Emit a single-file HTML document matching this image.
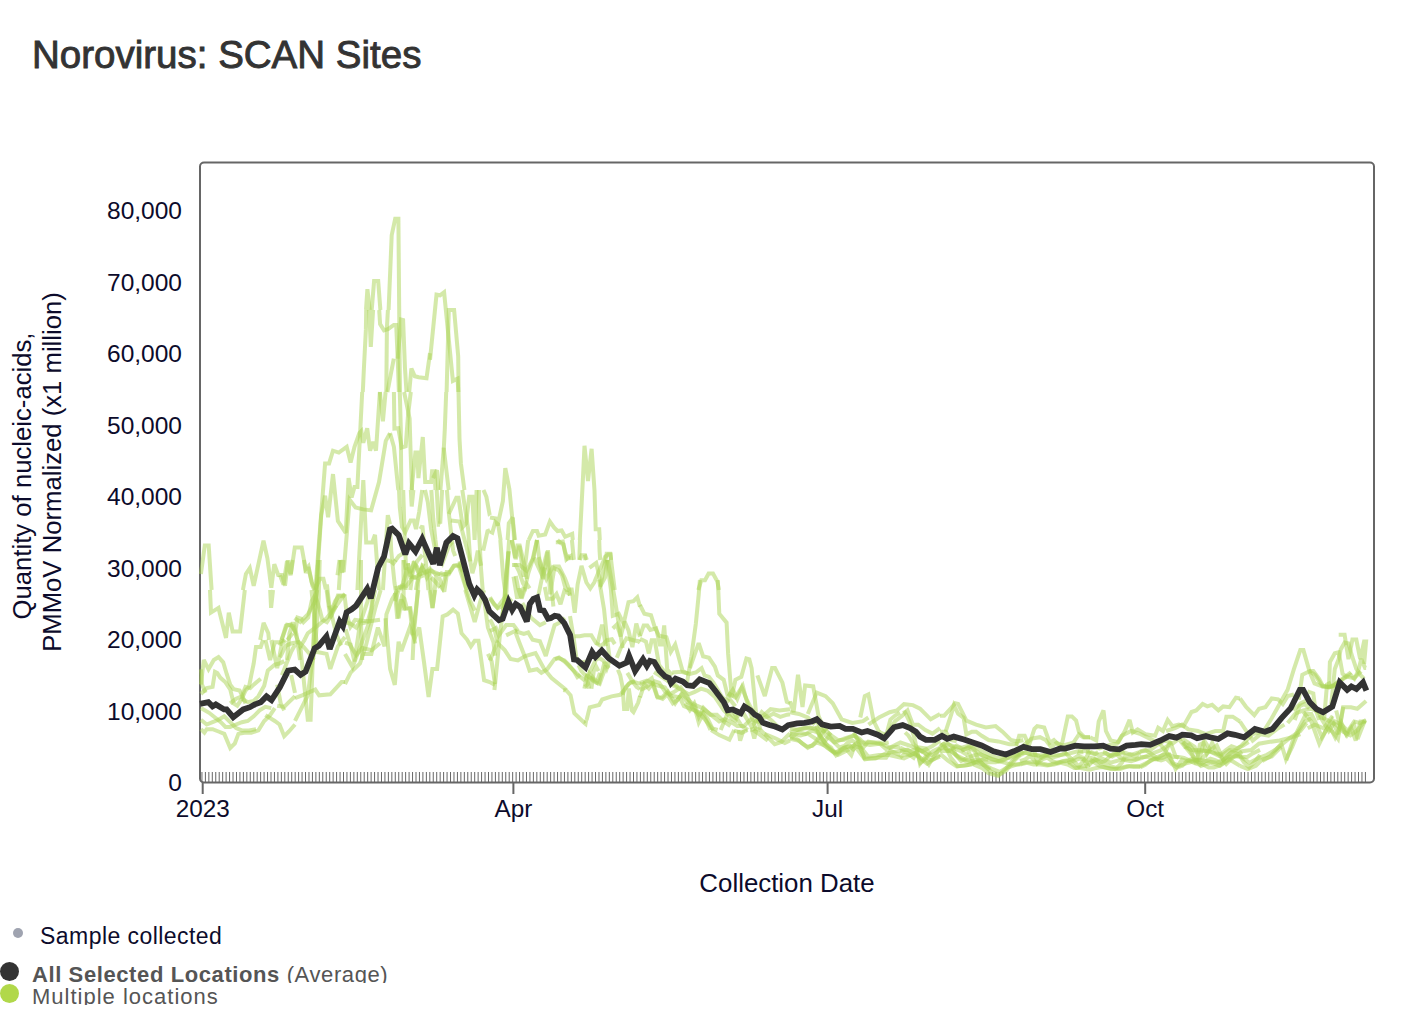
<!DOCTYPE html>
<html><head><meta charset="utf-8"><style>
html,body{margin:0;padding:0;background:#fff;width:1414px;height:1022px;overflow:hidden}
body{position:relative;font-family:"Liberation Sans",sans-serif}
.t{position:absolute;white-space:nowrap}
</style></head><body>
<div class="t" style="left:32px;top:31px;font-size:38.5px;color:#333;line-height:48px;-webkit-text-stroke:0.9px #333">Norovirus: SCAN Sites</div>
<svg width="1414" height="1022" style="position:absolute;left:0;top:0">
<rect x="200" y="162.5" width="1174" height="620" rx="4" ry="4" fill="none" stroke="#666" stroke-width="2"/>
<path d="M201.95 772V782M205.40 772V782M208.85 772V782M212.31 772V782M215.76 772V782M219.21 772V782M222.66 772V782M226.12 772V782M229.57 772V782M233.02 772V782M236.47 772V782M239.93 772V782M243.38 772V782M246.83 772V782M250.28 772V782M253.74 772V782M257.19 772V782M260.64 772V782M264.09 772V782M267.55 772V782M271.00 772V782M274.45 772V782M277.90 772V782M281.36 772V782M284.81 772V782M288.26 772V782M291.71 772V782M295.16 772V782M298.62 772V782M302.07 772V782M305.52 772V782M308.97 772V782M312.43 772V782M315.88 772V782M319.33 772V782M322.78 772V782M326.24 772V782M329.69 772V782M333.14 772V782M336.59 772V782M340.05 772V782M343.50 772V782M346.95 772V782M350.40 772V782M353.86 772V782M357.31 772V782M360.76 772V782M364.21 772V782M367.67 772V782M371.12 772V782M374.57 772V782M378.02 772V782M381.47 772V782M384.93 772V782M388.38 772V782M391.83 772V782M395.28 772V782M398.74 772V782M402.19 772V782M405.64 772V782M409.09 772V782M412.55 772V782M416.00 772V782M419.45 772V782M422.90 772V782M426.36 772V782M429.81 772V782M433.26 772V782M436.71 772V782M440.17 772V782M443.62 772V782M447.07 772V782M450.52 772V782M453.98 772V782M457.43 772V782M460.88 772V782M464.33 772V782M467.78 772V782M471.24 772V782M474.69 772V782M478.14 772V782M481.59 772V782M485.05 772V782M488.50 772V782M491.95 772V782M495.40 772V782M498.86 772V782M502.31 772V782M505.76 772V782M509.21 772V782M512.67 772V782M516.12 772V782M519.57 772V782M523.02 772V782M526.48 772V782M529.93 772V782M533.38 772V782M536.83 772V782M540.29 772V782M543.74 772V782M547.19 772V782M550.64 772V782M554.09 772V782M557.55 772V782M561.00 772V782M564.45 772V782M567.90 772V782M571.36 772V782M574.81 772V782M578.26 772V782M581.71 772V782M585.17 772V782M588.62 772V782M592.07 772V782M595.52 772V782M598.98 772V782M602.43 772V782M605.88 772V782M609.33 772V782M612.79 772V782M616.24 772V782M619.69 772V782M623.14 772V782M626.60 772V782M630.05 772V782M633.50 772V782M636.95 772V782M640.40 772V782M643.86 772V782M647.31 772V782M650.76 772V782M654.21 772V782M657.67 772V782M661.12 772V782M664.57 772V782M668.02 772V782M671.48 772V782M674.93 772V782M678.38 772V782M681.83 772V782M685.29 772V782M688.74 772V782M692.19 772V782M695.64 772V782M699.10 772V782M702.55 772V782M706.00 772V782M709.45 772V782M712.91 772V782M716.36 772V782M719.81 772V782M723.26 772V782M726.71 772V782M730.17 772V782M733.62 772V782M737.07 772V782M740.52 772V782M743.98 772V782M747.43 772V782M750.88 772V782M754.33 772V782M757.79 772V782M761.24 772V782M764.69 772V782M768.14 772V782M771.60 772V782M775.05 772V782M778.50 772V782M781.95 772V782M785.41 772V782M788.86 772V782M792.31 772V782M795.76 772V782M799.22 772V782M802.67 772V782M806.12 772V782M809.57 772V782M813.02 772V782M816.48 772V782M819.93 772V782M823.38 772V782M826.83 772V782M830.29 772V782M833.74 772V782M837.19 772V782M840.64 772V782M844.10 772V782M847.55 772V782M851.00 772V782M854.45 772V782M857.91 772V782M861.36 772V782M864.81 772V782M868.26 772V782M871.72 772V782M875.17 772V782M878.62 772V782M882.07 772V782M885.53 772V782M888.98 772V782M892.43 772V782M895.88 772V782M899.33 772V782M902.79 772V782M906.24 772V782M909.69 772V782M913.14 772V782M916.60 772V782M920.05 772V782M923.50 772V782M926.95 772V782M930.41 772V782M933.86 772V782M937.31 772V782M940.76 772V782M944.22 772V782M947.67 772V782M951.12 772V782M954.57 772V782M958.03 772V782M961.48 772V782M964.93 772V782M968.38 772V782M971.84 772V782M975.29 772V782M978.74 772V782M982.19 772V782M985.64 772V782M989.10 772V782M992.55 772V782M996.00 772V782M999.45 772V782M1002.91 772V782M1006.36 772V782M1009.81 772V782M1013.26 772V782M1016.72 772V782M1020.17 772V782M1023.62 772V782M1027.07 772V782M1030.53 772V782M1033.98 772V782M1037.43 772V782M1040.88 772V782M1044.34 772V782M1047.79 772V782M1051.24 772V782M1054.69 772V782M1058.15 772V782M1061.60 772V782M1065.05 772V782M1068.50 772V782M1071.95 772V782M1075.41 772V782M1078.86 772V782M1082.31 772V782M1085.76 772V782M1089.22 772V782M1092.67 772V782M1096.12 772V782M1099.57 772V782M1103.03 772V782M1106.48 772V782M1109.93 772V782M1113.38 772V782M1116.84 772V782M1120.29 772V782M1123.74 772V782M1127.19 772V782M1130.65 772V782M1134.10 772V782M1137.55 772V782M1141.00 772V782M1144.46 772V782M1147.91 772V782M1151.36 772V782M1154.81 772V782M1158.26 772V782M1161.72 772V782M1165.17 772V782M1168.62 772V782M1172.07 772V782M1175.53 772V782M1178.98 772V782M1182.43 772V782M1185.88 772V782M1189.34 772V782M1192.79 772V782M1196.24 772V782M1199.69 772V782M1203.15 772V782M1206.60 772V782M1210.05 772V782M1213.50 772V782M1216.96 772V782M1220.41 772V782M1223.86 772V782M1227.31 772V782M1230.77 772V782M1234.22 772V782M1237.67 772V782M1241.12 772V782M1244.57 772V782M1248.03 772V782M1251.48 772V782M1254.93 772V782M1258.38 772V782M1261.84 772V782M1265.29 772V782M1268.74 772V782M1272.19 772V782M1275.65 772V782M1279.10 772V782M1282.55 772V782M1286.00 772V782M1289.46 772V782M1292.91 772V782M1296.36 772V782M1299.81 772V782M1303.27 772V782M1306.72 772V782M1310.17 772V782M1313.62 772V782M1317.08 772V782M1320.53 772V782M1323.98 772V782M1327.43 772V782M1330.88 772V782M1334.34 772V782M1337.79 772V782M1341.24 772V782M1344.69 772V782M1348.15 772V782M1351.60 772V782M1355.05 772V782M1358.50 772V782M1361.96 772V782M1365.41 772V782" stroke="#666" stroke-width="1" fill="none"/>
<path d="M202.7 782V794" stroke="#666" stroke-width="2"/>
<path d="M513.4 782V794" stroke="#666" stroke-width="2"/>
<path d="M827.6 782V794" stroke="#666" stroke-width="2"/>
<path d="M1145.2 782V794" stroke="#666" stroke-width="2"/>
<g font-family="Liberation Sans" font-size="24.5" fill="#0c0b2b" text-anchor="end">
<text x="182" y="791.2">0</text>
<text x="182" y="719.7">10,000</text>
<text x="182" y="648.2">20,000</text>
<text x="182" y="576.7">30,000</text>
<text x="182" y="505.2">40,000</text>
<text x="182" y="433.7">50,000</text>
<text x="182" y="362.2">60,000</text>
<text x="182" y="290.7">70,000</text>
<text x="182" y="219.2">80,000</text>
</g>
<g font-family="Liberation Sans" font-size="24.3" fill="#0c0b2b" text-anchor="middle">
<text x="202.7" y="817">2023</text>
<text x="513.4" y="817">Apr</text>
<text x="827.6" y="817">Jul</text>
<text x="1145.2" y="817">Oct</text>
</g>
<text x="787" y="892" font-family="Liberation Sans" font-size="25.85" fill="#0c0b2b" text-anchor="middle">Collection Date</text>
<g transform="translate(0,472) rotate(-90)" font-family="Liberation Sans" font-size="25.7" fill="#0c0b2b" text-anchor="middle">
<text x="-4" y="31.3">Quantity of nucleic-acids,</text>
<text x="0" y="61">PMMoV Normalized (x1 million)</text>
</g>
<polyline points="388.6,310.0 391.7,235.2 395.2,218.8 398.4,218.8 399.2,310.0" fill="none" stroke="#aad454" stroke-opacity="0.5" stroke-width="4" stroke-linejoin="miter" stroke-miterlimit="3"/>
<polyline points="366.0,310.0 367.4,289.2 369.8,310.0" fill="none" stroke="#aad454" stroke-opacity="0.5" stroke-width="4" stroke-linejoin="miter" stroke-miterlimit="3"/>
<polyline points="371.7,310.0 374.1,281.0 378.2,281.0 380.4,310.0" fill="none" stroke="#aad454" stroke-opacity="0.5" stroke-width="4" stroke-linejoin="miter" stroke-miterlimit="3"/>
<polyline points="366.2,310.0 365.9,329.4 363.9,368.5 362.8,392.0" fill="none" stroke="#aad454" stroke-opacity="0.5" stroke-width="4" stroke-linejoin="miter" stroke-miterlimit="3"/>
<polyline points="373.1,310.0 370.8,347.0 369.2,310.0" fill="none" stroke="#aad454" stroke-opacity="0.5" stroke-width="4" stroke-linejoin="miter" stroke-miterlimit="3"/>
<polyline points="379.2,310.0 380.1,324.0 384.0,330.3 388.4,328.9 393.8,325.0 396.2,325.0 397.7,358.7 398.9,392.0" fill="none" stroke="#aad454" stroke-opacity="0.5" stroke-width="4" stroke-linejoin="miter" stroke-miterlimit="3"/>
<polyline points="387.9,310.0 386.9,328.4 386.3,392.0" fill="none" stroke="#aad454" stroke-opacity="0.5" stroke-width="4" stroke-linejoin="miter" stroke-miterlimit="3"/>
<polyline points="399.2,310.0 399.6,358.7 400.0,392.0" fill="none" stroke="#aad454" stroke-opacity="0.5" stroke-width="4" stroke-linejoin="miter" stroke-miterlimit="3"/>
<polyline points="393.8,358.7 387.4,392.0" fill="none" stroke="#aad454" stroke-opacity="0.5" stroke-width="4" stroke-linejoin="miter" stroke-miterlimit="3"/>
<polyline points="397.7,358.7 401.1,319.6 403.1,320.1 405.0,368.5 406.5,392.0" fill="none" stroke="#aad454" stroke-opacity="0.5" stroke-width="4" stroke-linejoin="miter" stroke-miterlimit="3"/>
<polyline points="430.0,353.1 426.5,378.3 418.7,377.3 414.8,376.3 411.4,368.5 409.2,392.0" fill="none" stroke="#aad454" stroke-opacity="0.5" stroke-width="4" stroke-linejoin="miter" stroke-miterlimit="3"/>
<polyline points="200.9,574.0 204.8,545.6 208.7,545.6 211.6,590.0" fill="none" stroke="#aad454" stroke-opacity="0.5" stroke-width="4" stroke-linejoin="miter" stroke-miterlimit="3"/>
<polyline points="242.9,590.0 245.9,574.0 249.8,568.1 253.7,585.7 263.5,540.7 267.4,558.3 271.3,587.7 274.3,564.2 278.2,574.9 282.1,574.9 285.0,585.7 288.0,560.3 290.9,574.0 294.8,547.5 301.7,547.5 305.6,569.1 308.5,566.1 312.4,585.7 314.4,590.0" fill="none" stroke="#aad454" stroke-opacity="0.5" stroke-width="4" stroke-linejoin="miter" stroke-miterlimit="3"/>
<polyline points="315.4,590.0 320.2,527.0 325.1,463.4 329.1,463.4 333.0,450.7 338.8,452.6 346.7,446.8 350.6,462.4 354.5,446.8 359.4,433.1 361.3,431.1 363.3,442.8 367.2,428.2 370.1,450.7 373.1,441.9 376.0,450.7 379.9,392.0" fill="none" stroke="#aad454" stroke-opacity="0.5" stroke-width="4" stroke-linejoin="miter" stroke-miterlimit="3"/>
<polyline points="379.9,392.0 382.9,421.3 385.6,392.0" fill="none" stroke="#aad454" stroke-opacity="0.5" stroke-width="4" stroke-linejoin="miter" stroke-miterlimit="3"/>
<polyline points="316.3,590.0 321.2,515.2 325.1,495.7 328.1,517.2 333.0,474.1 337.9,521.1 345.7,532.9 348.6,478.1 351.6,497.6 354.5,486.9 357.4,486.9 362.2,392.0" fill="none" stroke="#aad454" stroke-opacity="0.5" stroke-width="4" stroke-linejoin="miter" stroke-miterlimit="3"/>
<polyline points="338.8,590.0 340.8,560.3 343.7,572.0 349.6,499.6 355.5,507.4 363.3,509.4 371.1,510.4 379.0,482.0 385.8,440.9 390.0,433.3" fill="none" stroke="#aad454" stroke-opacity="0.5" stroke-width="4" stroke-linejoin="miter" stroke-miterlimit="3"/>
<polyline points="357.4,590.0 363.3,480.0 366.2,542.6 372.1,542.6 375.0,534.8 379.0,590.0" fill="none" stroke="#aad454" stroke-opacity="0.5" stroke-width="4" stroke-linejoin="miter" stroke-miterlimit="3"/>
<polyline points="382.9,590.0 387.8,515.2 390.0,524.2" fill="none" stroke="#aad454" stroke-opacity="0.5" stroke-width="4" stroke-linejoin="miter" stroke-miterlimit="3"/>
<polyline points="386.8,560.3 390.0,561.0" fill="none" stroke="#aad454" stroke-opacity="0.5" stroke-width="4" stroke-linejoin="miter" stroke-miterlimit="3"/>
<polyline points="430.0,359.8 436.5,294.7 440.0,295.3 444.1,292.3 452.9,380.9 457.6,378.6 458.3,392.0" fill="none" stroke="#aad454" stroke-opacity="0.5" stroke-width="4" stroke-linejoin="miter" stroke-miterlimit="3"/>
<polyline points="446.6,392.0 448.8,309.9 454.1,309.9 458.2,356.3 458.6,392.0" fill="none" stroke="#aad454" stroke-opacity="0.5" stroke-width="4" stroke-linejoin="miter" stroke-miterlimit="3"/>
<polyline points="458.5,392.0 459.5,438.9 460.9,463.4 464.4,490.0" fill="none" stroke="#aad454" stroke-opacity="0.5" stroke-width="4" stroke-linejoin="miter" stroke-miterlimit="3"/>
<polyline points="446.2,392.0 444.8,429.1 443.8,448.7 448.7,490.0" fill="none" stroke="#aad454" stroke-opacity="0.5" stroke-width="4" stroke-linejoin="miter" stroke-miterlimit="3"/>
<polyline points="440.4,490.0 443.8,447.7" fill="none" stroke="#aad454" stroke-opacity="0.5" stroke-width="4" stroke-linejoin="miter" stroke-miterlimit="3"/>
<polyline points="393.9,392.0 394.4,428.6 398.3,428.2 401.7,447.7 405.7,446.3 408.1,414.5 410.8,392.0" fill="none" stroke="#aad454" stroke-opacity="0.5" stroke-width="4" stroke-linejoin="miter" stroke-miterlimit="3"/>
<polyline points="399.8,392.0 400.8,429.1 401.3,490.0" fill="none" stroke="#aad454" stroke-opacity="0.5" stroke-width="4" stroke-linejoin="miter" stroke-miterlimit="3"/>
<polyline points="404.1,392.0 409.6,418.4 410.5,448.7 412.0,490.0" fill="none" stroke="#aad454" stroke-opacity="0.5" stroke-width="4" stroke-linejoin="miter" stroke-miterlimit="3"/>
<polyline points="390.0,433.1 393.9,446.8 398.3,490.0" fill="none" stroke="#aad454" stroke-opacity="0.5" stroke-width="4" stroke-linejoin="miter" stroke-miterlimit="3"/>
<polyline points="411.5,490.0 415.4,452.6 417.4,452.6 418.4,478.1 422.8,437.0 425.2,482.0 431.1,482.0 432.1,471.2 434.5,471.2 435.5,490.0" fill="none" stroke="#aad454" stroke-opacity="0.5" stroke-width="4" stroke-linejoin="miter" stroke-miterlimit="3"/>
<polyline points="433.1,478.1 437.0,470.2 438.4,490.0" fill="none" stroke="#aad454" stroke-opacity="0.5" stroke-width="4" stroke-linejoin="miter" stroke-miterlimit="3"/>
<polyline points="490.0,517.5 495.9,518.6 497.6,525.7 502.9,501.0 505.3,468.1 509.4,489.3 512.3,518.6 515.2,540.0" fill="none" stroke="#aad454" stroke-opacity="0.5" stroke-width="4" stroke-linejoin="miter" stroke-miterlimit="3"/>
<polyline points="490.0,531.5 492.3,532.7 495.3,522.1 498.2,524.5 500.6,540.0" fill="none" stroke="#aad454" stroke-opacity="0.5" stroke-width="4" stroke-linejoin="miter" stroke-miterlimit="3"/>
<polyline points="507.6,540.0 508.8,523.3 512.9,517.5 514.1,540.0" fill="none" stroke="#aad454" stroke-opacity="0.5" stroke-width="4" stroke-linejoin="miter" stroke-miterlimit="3"/>
<polyline points="579.8,540.0 582.8,481.1 584.5,445.8 588.0,481.1 591.6,448.8 594.5,490.4 595.7,529.2 599.2,529.2 599.8,540.0" fill="none" stroke="#aad454" stroke-opacity="0.5" stroke-width="4" stroke-linejoin="miter" stroke-miterlimit="3"/>
<polyline points="528.7,540.0 532.9,531.0 537.0,531.0 538.7,535.7 545.2,534.5 549.9,521.6 554.0,527.4 557.5,531.0 561.6,530.4 565.1,536.8 572.2,533.9 572.8,540.0" fill="none" stroke="#aad454" stroke-opacity="0.5" stroke-width="4" stroke-linejoin="miter" stroke-miterlimit="3"/>
<polyline points="399.0,490.0 399.8,507.5 402.0,526.9 405.2,532.3 410.6,520.4 413.8,520.4 416.0,529.1 419.2,511.8 422.2,490.0" fill="none" stroke="#aad454" stroke-opacity="0.5" stroke-width="4" stroke-linejoin="miter" stroke-miterlimit="3"/>
<polyline points="425.0,490.0 427.8,502.1 431.1,529.1 433.2,539.8 436.4,556.0" fill="none" stroke="#aad454" stroke-opacity="0.5" stroke-width="4" stroke-linejoin="miter" stroke-miterlimit="3"/>
<polyline points="410.8,490.0 411.7,506.5 413.4,490.0" fill="none" stroke="#aad454" stroke-opacity="0.5" stroke-width="4" stroke-linejoin="miter" stroke-miterlimit="3"/>
<polyline points="390.0,527.9 390.2,529.1 391.2,550.6 394.5,582.9 395.6,590.0" fill="none" stroke="#aad454" stroke-opacity="0.5" stroke-width="4" stroke-linejoin="miter" stroke-miterlimit="3"/>
<polyline points="390.0,560.8 393.4,563.5 398.8,556.0 404.1,552.7" fill="none" stroke="#aad454" stroke-opacity="0.5" stroke-width="4" stroke-linejoin="miter" stroke-miterlimit="3"/>
<polyline points="403.2,490.0 404.1,518.3 405.2,550.6 406.3,572.1 405.5,590.0" fill="none" stroke="#aad454" stroke-opacity="0.5" stroke-width="4" stroke-linejoin="miter" stroke-miterlimit="3"/>
<polyline points="420.3,529.1 422.4,525.8 424.6,550.6 426.8,572.1 428.4,590.0" fill="none" stroke="#aad454" stroke-opacity="0.5" stroke-width="4" stroke-linejoin="miter" stroke-miterlimit="3"/>
<polyline points="431.3,490.0 433.2,518.3 435.4,539.8 437.5,556.0" fill="none" stroke="#aad454" stroke-opacity="0.5" stroke-width="4" stroke-linejoin="miter" stroke-miterlimit="3"/>
<polyline points="436.7,490.0 438.6,524.8 440.0,524.8" fill="none" stroke="#aad454" stroke-opacity="0.5" stroke-width="4" stroke-linejoin="miter" stroke-miterlimit="3"/>
<polyline points="400.7,590.0 403.1,582.9 407.4,567.8 410.6,578.6 413.8,561.3 418.1,572.1 422.4,567.8 426.8,577.5 431.1,570.0 435.4,574.3 440.0,574.3" fill="none" stroke="#aad454" stroke-opacity="0.5" stroke-width="4" stroke-linejoin="miter" stroke-miterlimit="3"/>
<polyline points="394.5,588.3 400.9,587.2 406.3,586.1 412.8,577.5 418.1,577.5 423.5,575.3" fill="none" stroke="#aad454" stroke-opacity="0.5" stroke-width="4" stroke-linejoin="miter" stroke-miterlimit="3"/>
<polyline points="410.3,590.0 412.8,572.1 417.1,561.3 422.4,554.9" fill="none" stroke="#aad454" stroke-opacity="0.5" stroke-width="4" stroke-linejoin="miter" stroke-miterlimit="3"/>
<polyline points="431.1,577.5 436.4,582.9 440.0,587.5" fill="none" stroke="#aad454" stroke-opacity="0.5" stroke-width="4" stroke-linejoin="miter" stroke-miterlimit="3"/>
<polyline points="415.9,590.0 417.1,582.9 420.3,572.1 423.5,563.5" fill="none" stroke="#aad454" stroke-opacity="0.5" stroke-width="4" stroke-linejoin="miter" stroke-miterlimit="3"/>
<polyline points="440.0,521.0 440.2,523.7 442.1,490.0" fill="none" stroke="#aad454" stroke-opacity="0.5" stroke-width="4" stroke-linejoin="miter" stroke-miterlimit="3"/>
<polyline points="446.9,490.0 448.8,512.9 453.1,550.6 455.2,556.0" fill="none" stroke="#aad454" stroke-opacity="0.5" stroke-width="4" stroke-linejoin="miter" stroke-miterlimit="3"/>
<polyline points="448.8,514.0 456.3,497.8 458.5,497.8 462.8,526.9 466.0,523.7 469.2,496.8 472.4,496.8 474.6,539.8 476.6,490.0" fill="none" stroke="#aad454" stroke-opacity="0.5" stroke-width="4" stroke-linejoin="miter" stroke-miterlimit="3"/>
<polyline points="462.3,490.0 464.9,507.5 468.1,529.1 470.3,561.3" fill="none" stroke="#aad454" stroke-opacity="0.5" stroke-width="4" stroke-linejoin="miter" stroke-miterlimit="3"/>
<polyline points="483.5,490.0 486.4,496.8 489.7,515.1 490.0,515.4" fill="none" stroke="#aad454" stroke-opacity="0.5" stroke-width="4" stroke-linejoin="miter" stroke-miterlimit="3"/>
<polyline points="478.9,490.0 478.9,529.1 481.1,570.0 482.7,590.0" fill="none" stroke="#aad454" stroke-opacity="0.5" stroke-width="4" stroke-linejoin="miter" stroke-miterlimit="3"/>
<polyline points="483.2,550.6 487.5,531.2 490.0,530.2" fill="none" stroke="#aad454" stroke-opacity="0.5" stroke-width="4" stroke-linejoin="miter" stroke-miterlimit="3"/>
<polyline points="440.0,572.8 444.5,574.3 448.8,574.3 454.1,565.7 459.5,565.7 463.8,559.2" fill="none" stroke="#aad454" stroke-opacity="0.5" stroke-width="4" stroke-linejoin="miter" stroke-miterlimit="3"/>
<polyline points="440.0,585.4 442.3,588.3 446.6,572.1 450.9,572.1" fill="none" stroke="#aad454" stroke-opacity="0.5" stroke-width="4" stroke-linejoin="miter" stroke-miterlimit="3"/>
<polyline points="440.0,560.0 442.3,563.5 448.8,546.3 452.0,542.0" fill="none" stroke="#aad454" stroke-opacity="0.5" stroke-width="4" stroke-linejoin="miter" stroke-miterlimit="3"/>
<polyline points="450.9,520.4 459.5,521.5 461.7,529.1 466.0,545.2 470.3,561.3 472.4,573.2 475.7,561.3 477.8,550.6 481.1,565.7" fill="none" stroke="#aad454" stroke-opacity="0.5" stroke-width="4" stroke-linejoin="miter" stroke-miterlimit="3"/>
<polyline points="459.5,561.3 464.9,582.9 466.7,590.0" fill="none" stroke="#aad454" stroke-opacity="0.5" stroke-width="4" stroke-linejoin="miter" stroke-miterlimit="3"/>
<polyline points="210.0,590.0 211.0,612.6 218.5,607.9 226.0,637.9 228.8,612.6 232.6,631.4 240.1,631.4 244.8,590.0" fill="none" stroke="#aad454" stroke-opacity="0.5" stroke-width="4" stroke-linejoin="miter" stroke-miterlimit="3"/>
<polyline points="270.2,590.0 271.1,607.9 273.0,590.0" fill="none" stroke="#aad454" stroke-opacity="0.5" stroke-width="4" stroke-linejoin="miter" stroke-miterlimit="3"/>
<polyline points="287.3,640.0 292.7,633.2" fill="none" stroke="#aad454" stroke-opacity="0.5" stroke-width="4" stroke-linejoin="miter" stroke-miterlimit="3"/>
<polyline points="295.0,720.8 300.3,710.3 307.8,695.3 311.5,667.1 315.3,646.4" fill="none" stroke="#aad454" stroke-opacity="0.5" stroke-width="4" stroke-linejoin="miter" stroke-miterlimit="3"/>
<polyline points="260.2,640.0 263.6,622.9 268.3,633.2 269.0,640.0" fill="none" stroke="#aad454" stroke-opacity="0.5" stroke-width="4" stroke-linejoin="miter" stroke-miterlimit="3"/>
<polyline points="281.4,640.0 283.3,635.1 287.1,624.8 292.7,625.7 296.5,637.0 297.7,640.0" fill="none" stroke="#aad454" stroke-opacity="0.5" stroke-width="4" stroke-linejoin="miter" stroke-miterlimit="3"/>
<polyline points="304.4,640.0 307.8,633.2 315.3,627.6 326.6,618.2 334.1,608.8 345.0,593.8" fill="none" stroke="#aad454" stroke-opacity="0.5" stroke-width="4" stroke-linejoin="miter" stroke-miterlimit="3"/>
<polyline points="297.7,640.0 300.3,646.4 304.0,640.8 304.4,640.0" fill="none" stroke="#aad454" stroke-opacity="0.5" stroke-width="4" stroke-linejoin="miter" stroke-miterlimit="3"/>
<polyline points="295.0,698.1 302.1,695.3 315.3,689.6 319.1,695.3 330.3,694.3 341.6,682.1 345.0,682.1" fill="none" stroke="#aad454" stroke-opacity="0.5" stroke-width="4" stroke-linejoin="miter" stroke-miterlimit="3"/>
<polyline points="294.6,618.2 300.3,622.0 307.8,614.4 315.3,601.3 317.2,590.0" fill="none" stroke="#aad454" stroke-opacity="0.5" stroke-width="4" stroke-linejoin="miter" stroke-miterlimit="3"/>
<polyline points="313.5,640.0 315.3,590.0" fill="none" stroke="#aad454" stroke-opacity="0.5" stroke-width="4" stroke-linejoin="miter" stroke-miterlimit="3"/>
<polyline points="300.3,646.4 307.8,719.7 310.6,719.7 313.4,642.6 313.5,640.0" fill="none" stroke="#aad454" stroke-opacity="0.5" stroke-width="4" stroke-linejoin="miter" stroke-miterlimit="3"/>
<polyline points="311.5,590.0 315.3,627.6 316.3,640.0" fill="none" stroke="#aad454" stroke-opacity="0.5" stroke-width="4" stroke-linejoin="miter" stroke-miterlimit="3"/>
<polyline points="342.7,640.0 345.0,637.0" fill="none" stroke="#aad454" stroke-opacity="0.5" stroke-width="4" stroke-linejoin="miter" stroke-miterlimit="3"/>
<polyline points="316.3,640.0 317.2,652.0 326.6,653.9 330.3,668.9 337.9,646.4 342.7,640.0" fill="none" stroke="#aad454" stroke-opacity="0.5" stroke-width="4" stroke-linejoin="miter" stroke-miterlimit="3"/>
<polyline points="326.6,590.0 330.3,618.2 337.9,595.6 345.0,595.6" fill="none" stroke="#aad454" stroke-opacity="0.5" stroke-width="4" stroke-linejoin="miter" stroke-miterlimit="3"/>
<polyline points="345.0,684.0 350.6,672.7 354.4,668.9 360.0,663.3 365.7,646.4 369.4,631.4 375.1,608.8 380.7,590.0" fill="none" stroke="#aad454" stroke-opacity="0.5" stroke-width="4" stroke-linejoin="miter" stroke-miterlimit="3"/>
<polyline points="345.0,653.9 352.5,667.1 358.2,652.0 363.8,637.0 369.4,622.0 373.2,599.4 375.1,590.0" fill="none" stroke="#aad454" stroke-opacity="0.5" stroke-width="4" stroke-linejoin="miter" stroke-miterlimit="3"/>
<polyline points="345.0,642.6 350.6,644.5 354.4,661.4 360.0,623.8 367.6,622.0 371.3,608.8 373.2,590.0" fill="none" stroke="#aad454" stroke-opacity="0.5" stroke-width="4" stroke-linejoin="miter" stroke-miterlimit="3"/>
<polyline points="345.0,622.0 350.6,623.8 356.3,627.6 361.9,618.2 367.6,601.3 369.4,590.0" fill="none" stroke="#aad454" stroke-opacity="0.5" stroke-width="4" stroke-linejoin="miter" stroke-miterlimit="3"/>
<polyline points="363.8,653.9 371.3,653.9 377.9,627.6 384.5,646.4 386.4,614.4 392.0,599.4 397.6,590.0" fill="none" stroke="#aad454" stroke-opacity="0.5" stroke-width="4" stroke-linejoin="miter" stroke-miterlimit="3"/>
<polyline points="385.4,618.2 390.1,668.9 394.8,684.9 398.6,641.7 401.4,651.1 409.8,627.6 414.5,638.9 419.2,627.6 423.9,661.4 428.6,697.1 432.4,668.9 437.1,668.9 442.7,616.3 447.4,614.4 453.1,609.7 457.8,613.5 461.5,633.2 467.2,639.8 470.9,646.4 474.7,640.8 478.5,640.8 484.1,680.2 489.7,682.1 495.0,684.9" fill="none" stroke="#aad454" stroke-opacity="0.5" stroke-width="4" stroke-linejoin="miter" stroke-miterlimit="3"/>
<polyline points="395.8,590.0 398.6,618.2 401.4,599.4 405.2,608.8 409.8,608.8 412.7,635.1 418.3,590.0" fill="none" stroke="#aad454" stroke-opacity="0.5" stroke-width="4" stroke-linejoin="miter" stroke-miterlimit="3"/>
<polyline points="429.6,590.0 432.4,607.9 435.2,590.0" fill="none" stroke="#aad454" stroke-opacity="0.5" stroke-width="4" stroke-linejoin="miter" stroke-miterlimit="3"/>
<polyline points="465.3,590.0 474.7,622.0 480.3,601.3 484.1,590.0" fill="none" stroke="#aad454" stroke-opacity="0.5" stroke-width="4" stroke-linejoin="miter" stroke-miterlimit="3"/>
<polyline points="484.1,599.4 487.9,627.6 493.5,642.6 495.0,655.8" fill="none" stroke="#aad454" stroke-opacity="0.5" stroke-width="4" stroke-linejoin="miter" stroke-miterlimit="3"/>
<polyline points="487.9,653.9 491.6,661.4 495.0,684.0" fill="none" stroke="#aad454" stroke-opacity="0.5" stroke-width="4" stroke-linejoin="miter" stroke-miterlimit="3"/>
<polyline points="508.3,551.7 504.7,598.7 500.3,631.0 495.1,683.8 494.4,690.0" fill="none" stroke="#aad454" stroke-opacity="0.5" stroke-width="4" stroke-linejoin="miter" stroke-miterlimit="3"/>
<polyline points="500.3,540.0 503.2,576.7 506.1,598.7 508.3,551.7 509.1,540.0" fill="none" stroke="#aad454" stroke-opacity="0.5" stroke-width="4" stroke-linejoin="miter" stroke-miterlimit="3"/>
<polyline points="512.0,540.0 515.7,559.1 519.4,545.9 523.8,576.7 528.2,540.0" fill="none" stroke="#aad454" stroke-opacity="0.5" stroke-width="4" stroke-linejoin="miter" stroke-miterlimit="3"/>
<polyline points="513.5,576.7 517.2,598.7 519.4,588.4 521.6,598.7 526.7,584.0 529.6,588.4" fill="none" stroke="#aad454" stroke-opacity="0.5" stroke-width="4" stroke-linejoin="miter" stroke-miterlimit="3"/>
<polyline points="512.0,565.0 519.4,565.0 526.7,570.8 532.6,559.1 537.0,540.0" fill="none" stroke="#aad454" stroke-opacity="0.5" stroke-width="4" stroke-linejoin="miter" stroke-miterlimit="3"/>
<polyline points="534.0,557.6 541.4,573.8 547.2,551.7 550.2,594.3 554.6,566.4 559.0,566.4 564.9,578.2 569.3,589.9 570.0,595.8" fill="none" stroke="#aad454" stroke-opacity="0.5" stroke-width="4" stroke-linejoin="miter" stroke-miterlimit="3"/>
<polyline points="557.5,540.0 560.5,542.9 563.4,544.4 566.3,559.1 570.0,555.4" fill="none" stroke="#aad454" stroke-opacity="0.5" stroke-width="4" stroke-linejoin="miter" stroke-miterlimit="3"/>
<polyline points="490.0,598.7 497.3,607.5 506.1,595.8 512.0,601.6" fill="none" stroke="#aad454" stroke-opacity="0.5" stroke-width="4" stroke-linejoin="miter" stroke-miterlimit="3"/>
<polyline points="490.0,631.0 495.9,628.1 498.8,635.4 506.1,625.1 513.5,625.1 517.9,631.0" fill="none" stroke="#aad454" stroke-opacity="0.5" stroke-width="4" stroke-linejoin="miter" stroke-miterlimit="3"/>
<polyline points="490.0,619.3 494.4,628.1 497.3,642.7" fill="none" stroke="#aad454" stroke-opacity="0.5" stroke-width="4" stroke-linejoin="miter" stroke-miterlimit="3"/>
<polyline points="490.0,660.4 497.3,642.7 504.7,650.1 510.5,658.9 517.9,660.4 525.2,656.0 535.5,653.0 544.3,669.2 551.6,678.0 560.5,685.3 566.3,690.0" fill="none" stroke="#aad454" stroke-opacity="0.5" stroke-width="4" stroke-linejoin="miter" stroke-miterlimit="3"/>
<polyline points="506.1,635.4 515.0,631.0 519.4,642.7 525.2,657.4 529.6,670.6 537.0,669.2 541.4,672.8 547.2,669.2 554.6,658.9 559.0,657.4 564.9,661.8 570.0,667.0" fill="none" stroke="#aad454" stroke-opacity="0.5" stroke-width="4" stroke-linejoin="miter" stroke-miterlimit="3"/>
<polyline points="570.0,667.0 570.7,667.7 578.1,675.0 585.0,680.6" fill="none" stroke="#aad454" stroke-opacity="0.5" stroke-width="4" stroke-linejoin="miter" stroke-miterlimit="3"/>
<polyline points="515.0,631.0 523.8,633.9 528.2,632.5 532.6,639.8 539.9,641.3 545.8,656.0 551.6,635.4 554.6,625.1 560.5,622.2 564.9,617.8" fill="none" stroke="#aad454" stroke-opacity="0.5" stroke-width="4" stroke-linejoin="miter" stroke-miterlimit="3"/>
<polyline points="522.3,603.1 531.1,617.8 539.9,625.1 545.8,622.2" fill="none" stroke="#aad454" stroke-opacity="0.5" stroke-width="4" stroke-linejoin="miter" stroke-miterlimit="3"/>
<polyline points="583.5,660.0 585.0,664.9" fill="none" stroke="#aad454" stroke-opacity="0.5" stroke-width="4" stroke-linejoin="miter" stroke-miterlimit="3"/>
<polyline points="563.2,690.0 566.4,690.5 570.6,695.3 574.3,713.3 585.0,723.5" fill="none" stroke="#aad454" stroke-opacity="0.5" stroke-width="4" stroke-linejoin="miter" stroke-miterlimit="3"/>
<polyline points="585.0,723.5 585.5,723.9 586.2,720.0" fill="none" stroke="#aad454" stroke-opacity="0.5" stroke-width="4" stroke-linejoin="miter" stroke-miterlimit="3"/>
<polyline points="600.3,586.8 606.6,553.8 610.3,553.8 614.7,590.0" fill="none" stroke="#aad454" stroke-opacity="0.5" stroke-width="4" stroke-linejoin="miter" stroke-miterlimit="3"/>
<polyline points="698.3,590.0 701.3,580.2 705.0,580.2 708.6,573.6 713.0,573.6 717.4,581.6 718.9,590.0" fill="none" stroke="#aad454" stroke-opacity="0.5" stroke-width="4" stroke-linejoin="miter" stroke-miterlimit="3"/>
<polyline points="687.0,682.7 691.4,656.3 695.8,624.0 698.7,594.7 699.9,580.0" fill="none" stroke="#aad454" stroke-opacity="0.5" stroke-width="4" stroke-linejoin="miter" stroke-miterlimit="3"/>
<polyline points="717.8,580.0 719.3,613.8 726.6,622.6 728.1,653.4 731.7,697.4 735.4,679.8 741.3,676.9 746.4,658.5 749.3,659.3 751.6,668.1 756.0,712.1 760.4,730.0" fill="none" stroke="#aad454" stroke-opacity="0.5" stroke-width="4" stroke-linejoin="miter" stroke-miterlimit="3"/>
<polyline points="640.0,605.0 644.4,613.8 651.0,615.2 654.7,627.0 659.1,635.8 666.4,637.2 670.8,651.9 675.2,644.6 682.6,671.0 688.4,673.9" fill="none" stroke="#aad454" stroke-opacity="0.5" stroke-width="4" stroke-linejoin="miter" stroke-miterlimit="3"/>
<polyline points="640.0,635.8 643.7,625.5 647.3,625.5 650.3,629.9 656.1,628.4 659.8,644.6 662.0,644.6 664.2,625.5 667.2,669.5 672.3,675.4" fill="none" stroke="#aad454" stroke-opacity="0.5" stroke-width="4" stroke-linejoin="miter" stroke-miterlimit="3"/>
<polyline points="640.0,638.7 645.9,641.6 648.8,653.4 651.7,640.2 654.7,640.2 659.1,665.1 665.0,672.5 670.8,681.3 678.2,687.1" fill="none" stroke="#aad454" stroke-opacity="0.5" stroke-width="4" stroke-linejoin="miter" stroke-miterlimit="3"/>
<polyline points="689.9,668.1 698.7,643.1 703.1,656.3 709.0,657.8 714.9,666.6 717.8,675.4 723.7,679.8 728.1,697.4 735.4,706.2" fill="none" stroke="#aad454" stroke-opacity="0.5" stroke-width="4" stroke-linejoin="miter" stroke-miterlimit="3"/>
<polyline points="672.3,672.5 681.1,671.7 689.9,673.9 695.8,672.5 701.6,668.1 704.6,675.4 709.0,676.9 713.4,682.7 722.2,697.4 729.5,701.8" fill="none" stroke="#aad454" stroke-opacity="0.5" stroke-width="4" stroke-linejoin="miter" stroke-miterlimit="3"/>
<polyline points="640.0,685.7 647.3,681.3 651.7,678.3 657.6,697.4 662.0,697.4 667.9,691.6 675.2,703.3 681.1,694.5 687.0,701.8 694.3,706.2 698.7,722.4 703.1,713.6 710.5,730.0" fill="none" stroke="#aad454" stroke-opacity="0.5" stroke-width="4" stroke-linejoin="miter" stroke-miterlimit="3"/>
<polyline points="640.0,697.4 644.4,684.2 648.8,688.6 654.7,681.3 659.1,682.7 665.0,691.6 672.3,696.0 679.6,697.4 684.0,706.2 691.4,709.2 698.7,712.1 706.1,720.9 713.4,730.0" fill="none" stroke="#aad454" stroke-opacity="0.5" stroke-width="4" stroke-linejoin="miter" stroke-miterlimit="3"/>
<polyline points="757.4,675.4 764.8,696.0 772.1,668.1 775.0,668.1 782.4,682.7 786.8,701.8 790.0,703.3" fill="none" stroke="#aad454" stroke-opacity="0.5" stroke-width="4" stroke-linejoin="miter" stroke-miterlimit="3"/>
<polyline points="760.4,718.0 770.6,709.2 779.4,710.6 790.0,709.2" fill="none" stroke="#aad454" stroke-opacity="0.5" stroke-width="4" stroke-linejoin="miter" stroke-miterlimit="3"/>
<polyline points="728.1,693.0 735.4,697.4 742.7,685.7 745.7,697.4 750.1,712.1 756.0,730.0" fill="none" stroke="#aad454" stroke-opacity="0.5" stroke-width="4" stroke-linejoin="miter" stroke-miterlimit="3"/>
<polyline points="720.7,730.0 728.1,712.1 735.4,718.0 742.7,712.1 751.6,726.8 757.4,719.4 761.8,712.1 772.1,720.9 780.9,730.0" fill="none" stroke="#aad454" stroke-opacity="0.5" stroke-width="4" stroke-linejoin="miter" stroke-miterlimit="3"/>
<polyline points="711.1,730.0 719.2,735.1 729.4,739.6 733.9,730.6 734.2,730.0" fill="none" stroke="#aad454" stroke-opacity="0.5" stroke-width="4" stroke-linejoin="miter" stroke-miterlimit="3"/>
<polyline points="738.5,730.0 740.1,740.7 743.6,730.0" fill="none" stroke="#aad454" stroke-opacity="0.5" stroke-width="4" stroke-linejoin="miter" stroke-miterlimit="3"/>
<polyline points="752.0,730.0 754.3,738.5 756.4,730.0" fill="none" stroke="#aad454" stroke-opacity="0.5" stroke-width="4" stroke-linejoin="miter" stroke-miterlimit="3"/>
<polyline points="760.5,730.0 766.7,736.2 774.7,744.1 781.4,741.9 787.1,736.2 790.0,733.3" fill="none" stroke="#aad454" stroke-opacity="0.5" stroke-width="4" stroke-linejoin="miter" stroke-miterlimit="3"/>
<polyline points="764.5,733.9 775.8,738.5 784.8,743.0 790.0,740.4" fill="none" stroke="#aad454" stroke-opacity="0.5" stroke-width="4" stroke-linejoin="miter" stroke-miterlimit="3"/>
<polyline points="733.9,730.6 741.8,732.8 747.5,730.0" fill="none" stroke="#aad454" stroke-opacity="0.5" stroke-width="4" stroke-linejoin="miter" stroke-miterlimit="3"/>
<polyline points="753.3,730.0 758.8,733.9 767.9,740.7" fill="none" stroke="#aad454" stroke-opacity="0.5" stroke-width="4" stroke-linejoin="miter" stroke-miterlimit="3"/>
<polyline points="790.0,701.5 793.6,712.2 798.0,674.8 802.5,706.9 805.1,685.5 813.2,686.4 818.5,715.8 823.8,728.2 831.0,735.4" fill="none" stroke="#aad454" stroke-opacity="0.5" stroke-width="4" stroke-linejoin="miter" stroke-miterlimit="3"/>
<polyline points="790.0,712.2 798.9,714.0 807.8,717.5 814.9,724.7" fill="none" stroke="#aad454" stroke-opacity="0.5" stroke-width="4" stroke-linejoin="miter" stroke-miterlimit="3"/>
<polyline points="807.8,714.0 816.7,692.6 825.6,696.2 832.7,703.3 841.6,719.3 852.3,722.9 863.0,721.1 868.4,717.5" fill="none" stroke="#aad454" stroke-opacity="0.5" stroke-width="4" stroke-linejoin="miter" stroke-miterlimit="3"/>
<polyline points="860.3,717.5 864.8,696.2 868.4,694.4 873.7,721.1 879.0,731.8" fill="none" stroke="#aad454" stroke-opacity="0.5" stroke-width="4" stroke-linejoin="miter" stroke-miterlimit="3"/>
<polyline points="868.4,724.7 879.0,717.5 889.7,712.2 896.9,710.4 904.0,704.2 912.9,705.1 920.0,708.6 930.7,719.3 940.0,714.0" fill="none" stroke="#aad454" stroke-opacity="0.5" stroke-width="4" stroke-linejoin="miter" stroke-miterlimit="3"/>
<polyline points="879.0,731.8 886.2,735.4 895.1,721.1 902.2,715.8 907.5,710.4 912.9,724.7 918.2,724.7 925.4,730.0 932.5,733.6 940.0,728.2" fill="none" stroke="#aad454" stroke-opacity="0.5" stroke-width="4" stroke-linejoin="miter" stroke-miterlimit="3"/>
<polyline points="790.0,728.2 797.1,730.0 806.0,728.2 816.7,728.2 825.6,731.8" fill="none" stroke="#aad454" stroke-opacity="0.5" stroke-width="4" stroke-linejoin="miter" stroke-miterlimit="3"/>
<polyline points="790.0,738.9 798.9,740.7 807.8,747.8 816.7,742.5 825.6,746.0 834.5,753.2 843.4,747.8 852.3,746.0 861.2,747.8 868.4,756.7 879.0,754.9 888.0,754.9 896.9,756.7 904.0,758.5 914.7,753.2 923.6,760.3 932.5,751.4 940.0,747.8" fill="none" stroke="#aad454" stroke-opacity="0.5" stroke-width="4" stroke-linejoin="miter" stroke-miterlimit="3"/>
<polyline points="790.0,733.6 800.7,735.4 807.8,733.6 818.5,740.7 827.4,747.8 838.1,754.9 848.8,749.6 857.7,742.5 864.8,758.5 875.5,758.5 886.2,753.2 896.9,751.4 907.5,749.6 918.2,756.7 927.1,763.8 940.0,754.9" fill="none" stroke="#aad454" stroke-opacity="0.5" stroke-width="4" stroke-linejoin="miter" stroke-miterlimit="3"/>
<polyline points="816.7,721.1 825.6,735.4 834.5,742.5 843.4,738.9 854.1,735.4 861.2,742.5 870.1,742.5 879.0,742.5 889.7,747.8 900.4,742.5 911.1,746.0 921.8,751.4 932.5,746.0 940.0,740.7" fill="none" stroke="#aad454" stroke-opacity="0.5" stroke-width="4" stroke-linejoin="miter" stroke-miterlimit="3"/>
<polyline points="904.0,710.4 909.3,721.1 914.7,738.9 920.0,763.8 925.4,756.7 930.7,760.3 940.0,756.7" fill="none" stroke="#aad454" stroke-opacity="0.5" stroke-width="4" stroke-linejoin="miter" stroke-miterlimit="3"/>
<polyline points="940.0,715.7 944.2,715.7 951.1,708.1 955.3,703.2 958.1,703.9 962.2,712.2 966.4,720.6 976.1,724.7 985.8,727.5 995.6,726.1 1002.5,731.7 1010.8,740.0 1017.8,741.4 1023.3,740.0" fill="none" stroke="#aad454" stroke-opacity="0.5" stroke-width="4" stroke-linejoin="miter" stroke-miterlimit="3"/>
<polyline points="945.6,731.7 951.1,715.0 953.9,705.3 958.1,713.6 963.6,717.8 966.4,734.4 971.9,731.7 976.1,731.7 981.7,735.8 988.6,740.0 998.3,741.4 1009.4,744.2 1017.8,744.2" fill="none" stroke="#aad454" stroke-opacity="0.5" stroke-width="4" stroke-linejoin="miter" stroke-miterlimit="3"/>
<polyline points="940.0,731.7 945.6,731.7 951.1,740.0 956.7,741.4" fill="none" stroke="#aad454" stroke-opacity="0.5" stroke-width="4" stroke-linejoin="miter" stroke-miterlimit="3"/>
<polyline points="1016.4,745.6 1019.2,735.8 1024.7,735.8 1028.9,745.6 1034.4,728.9 1037.2,726.1 1044.2,727.5 1049.7,742.8 1053.9,740.0 1059.4,745.6 1062.2,742.8 1067.8,716.4 1071.9,716.4 1076.1,720.6 1078.9,731.7 1084.4,737.2 1090.0,737.2" fill="none" stroke="#aad454" stroke-opacity="0.5" stroke-width="4" stroke-linejoin="miter" stroke-miterlimit="3"/>
<polyline points="1023.3,745.6 1031.7,738.6 1040.0,737.2 1045.6,740.0 1051.1,746.9 1056.7,742.8 1062.2,745.6 1073.3,742.8 1078.9,734.4 1083.1,737.2 1090.0,737.2" fill="none" stroke="#aad454" stroke-opacity="0.5" stroke-width="4" stroke-linejoin="miter" stroke-miterlimit="3"/>
<polyline points="940.0,753.9 948.3,760.8 956.7,766.4 967.8,765.0 976.1,762.2 984.4,765.0 992.8,769.2 999.7,771.9 1006.7,767.8 1015.0,765.0 1026.1,762.2 1037.2,762.2 1048.3,765.0 1059.4,762.2 1067.8,760.8 1076.1,767.8 1090.0,765.0" fill="none" stroke="#aad454" stroke-opacity="0.5" stroke-width="4" stroke-linejoin="miter" stroke-miterlimit="3"/>
<polyline points="940.0,751.1 951.1,751.1 959.4,758.1 967.8,762.2 976.1,759.4 981.7,759.4 987.2,762.2 995.6,762.2 1002.5,760.8 1009.4,756.7 1017.8,753.9 1026.1,752.5 1034.4,755.3 1041.4,755.3 1051.1,755.3 1059.4,755.3 1067.8,753.9 1078.9,751.1 1090.0,751.1" fill="none" stroke="#aad454" stroke-opacity="0.5" stroke-width="4" stroke-linejoin="miter" stroke-miterlimit="3"/>
<polyline points="940.0,744.2 948.3,751.1 956.7,745.6 963.6,749.7 973.3,745.6 981.7,751.1 990.0,755.3 998.3,758.1 1006.7,755.3 1012.2,751.1 1020.6,748.3 1028.9,745.6" fill="none" stroke="#aad454" stroke-opacity="0.5" stroke-width="4" stroke-linejoin="miter" stroke-miterlimit="3"/>
<polyline points="967.8,749.7 974.7,765.0 981.7,767.8 988.6,773.3 998.3,776.1 1005.3,769.2 1012.2,760.8 1023.3,751.1" fill="none" stroke="#aad454" stroke-opacity="0.5" stroke-width="4" stroke-linejoin="miter" stroke-miterlimit="3"/>
<polyline points="1034.4,751.1 1037.2,762.2 1041.4,756.7 1048.3,753.9" fill="none" stroke="#aad454" stroke-opacity="0.5" stroke-width="4" stroke-linejoin="miter" stroke-miterlimit="3"/>
<polyline points="1065.0,752.5 1071.9,759.4 1078.9,766.4 1085.8,758.1 1090.0,751.1" fill="none" stroke="#aad454" stroke-opacity="0.5" stroke-width="4" stroke-linejoin="miter" stroke-miterlimit="3"/>
<polyline points="940.0,745.6 946.9,742.8 953.9,748.3 960.8,751.1 967.8,755.3" fill="none" stroke="#aad454" stroke-opacity="0.5" stroke-width="4" stroke-linejoin="miter" stroke-miterlimit="3"/>
<polyline points="1090.0,737.3 1096.3,740.5 1098.7,721.5 1103.5,710.4 1105.9,731.0 1110.6,740.5 1118.5,742.1 1124.9,731.0 1129.6,719.9 1132.8,732.6 1137.6,729.4 1145.5,734.2 1155.0,735.7 1158.2,727.8 1162.9,731.0 1167.7,719.9 1172.4,726.2 1178.8,724.6 1183.5,726.2 1191.5,712.0 1196.2,710.4 1202.6,704.0 1207.3,706.4 1212.1,704.8 1218.4,710.4 1223.2,706.4 1229.5,707.2 1235.9,697.7 1240.0,698.5" fill="none" stroke="#aad454" stroke-opacity="0.5" stroke-width="4" stroke-linejoin="miter" stroke-miterlimit="3"/>
<polyline points="1166.1,731.0 1175.6,727.8 1182.0,724.6 1188.3,729.4 1197.8,731.0 1205.7,734.2 1215.3,731.0 1223.2,731.0 1226.4,716.7 1232.7,716.7 1240.0,721.5" fill="none" stroke="#aad454" stroke-opacity="0.5" stroke-width="4" stroke-linejoin="miter" stroke-miterlimit="3"/>
<polyline points="1090.0,751.6 1097.9,754.8 1105.9,753.2 1112.2,756.4 1121.7,751.6 1131.2,754.8 1140.7,751.6 1150.3,750.0 1156.6,745.3 1164.5,740.5 1172.4,743.7 1178.8,738.9 1185.1,746.8 1191.5,750.0 1201.0,750.0 1210.5,751.6 1220.0,756.4 1229.5,750.0 1240.0,751.6" fill="none" stroke="#aad454" stroke-opacity="0.5" stroke-width="4" stroke-linejoin="miter" stroke-miterlimit="3"/>
<polyline points="1090.0,759.5 1099.5,765.9 1110.6,769.0 1120.1,769.0 1129.6,765.9 1140.7,765.9 1153.4,759.5 1162.9,757.9 1169.3,754.8 1175.6,769.0 1182.0,759.5 1188.3,761.1 1197.8,759.5 1207.3,761.1 1216.8,762.7 1229.5,756.4 1240.0,756.4" fill="none" stroke="#aad454" stroke-opacity="0.5" stroke-width="4" stroke-linejoin="miter" stroke-miterlimit="3"/>
<polyline points="1090.0,762.7 1101.1,757.9 1110.6,762.7 1121.7,759.5 1131.2,761.1 1142.3,757.9 1153.4,753.2 1161.3,750.0 1170.9,743.7 1175.6,756.4 1178.8,757.9" fill="none" stroke="#aad454" stroke-opacity="0.5" stroke-width="4" stroke-linejoin="miter" stroke-miterlimit="3"/>
<polyline points="1090.0,745.3 1099.5,748.4 1109.0,745.3 1117.0,743.7 1121.7,735.7 1131.2,731.0 1140.7,734.2 1150.3,738.9 1159.8,743.7 1166.1,751.6 1172.4,762.7 1178.8,765.9 1188.3,762.7 1201.0,759.5 1210.5,750.0 1216.8,745.3 1223.2,759.5 1232.7,751.6 1240.0,746.8" fill="none" stroke="#aad454" stroke-opacity="0.5" stroke-width="4" stroke-linejoin="miter" stroke-miterlimit="3"/>
<polyline points="1175.6,735.7 1185.1,740.5 1194.6,746.8 1199.4,759.5 1204.2,740.5 1210.5,750.0" fill="none" stroke="#aad454" stroke-opacity="0.5" stroke-width="4" stroke-linejoin="miter" stroke-miterlimit="3"/>
<polyline points="1185.1,746.8 1193.1,756.4 1201.0,765.9 1210.5,762.7 1220.0,765.9 1229.5,759.5 1240.0,765.9" fill="none" stroke="#aad454" stroke-opacity="0.5" stroke-width="4" stroke-linejoin="miter" stroke-miterlimit="3"/>
<polyline points="1240.0,698.5 1246.3,707.2 1254.3,715.1 1259.0,708.8 1265.4,707.2 1271.7,698.5 1278.1,699.3 1282.8,704.0 1287.6,696.1 1293.9,694.5" fill="none" stroke="#aad454" stroke-opacity="0.5" stroke-width="4" stroke-linejoin="miter" stroke-miterlimit="3"/>
<polyline points="1240.0,746.8 1252.7,734.2 1263.8,731.0 1271.7,718.3 1279.6,704.0 1287.6,689.8 1293.9,669.2 1300.3,650.1 1303.4,650.1 1309.8,672.3 1314.5,683.4 1322.4,686.6 1332.0,686.6 1338.3,681.8 1344.6,677.1 1351.0,672.3" fill="none" stroke="#aad454" stroke-opacity="0.5" stroke-width="4" stroke-linejoin="miter" stroke-miterlimit="3"/>
<polyline points="1325.6,731.0 1332.0,719.9 1338.3,734.2 1343.1,707.2 1351.0,707.2 1357.3,708.8 1366.1,700.9" fill="none" stroke="#aad454" stroke-opacity="0.5" stroke-width="4" stroke-linejoin="miter" stroke-miterlimit="3"/>
<polyline points="1319.3,715.1 1328.8,731.0 1335.1,721.5 1341.5,724.6 1347.8,731.0 1354.2,721.5 1360.5,723.1 1366.1,719.9" fill="none" stroke="#aad454" stroke-opacity="0.5" stroke-width="4" stroke-linejoin="miter" stroke-miterlimit="3"/>
<polyline points="1328.8,724.6 1335.1,737.3 1341.5,723.1 1346.2,734.2 1351.0,727.8 1355.7,740.5 1360.5,721.5 1366.1,721.5" fill="none" stroke="#aad454" stroke-opacity="0.5" stroke-width="4" stroke-linejoin="miter" stroke-miterlimit="3"/>
<polyline points="1240.0,721.5 1246.3,731.0 1252.7,740.5 1260.6,734.2 1268.5,735.7 1276.5,729.4 1284.4,724.6" fill="none" stroke="#aad454" stroke-opacity="0.5" stroke-width="4" stroke-linejoin="miter" stroke-miterlimit="3"/>
<polyline points="1240.0,756.4 1249.5,762.7 1259.0,757.9 1267.0,754.8 1274.9,750.0 1282.8,743.7 1290.7,737.3 1300.3,731.0 1306.6,723.1" fill="none" stroke="#aad454" stroke-opacity="0.5" stroke-width="4" stroke-linejoin="miter" stroke-miterlimit="3"/>
<polyline points="1240.0,765.9 1247.9,769.0 1255.9,765.9 1262.2,759.5 1271.7,756.4 1281.2,746.8" fill="none" stroke="#aad454" stroke-opacity="0.5" stroke-width="4" stroke-linejoin="miter" stroke-miterlimit="3"/>
<polyline points="1240.0,751.6 1251.1,750.0 1259.0,743.7 1268.5,742.1 1279.6,740.5 1292.3,737.3 1300.3,734.2" fill="none" stroke="#aad454" stroke-opacity="0.5" stroke-width="4" stroke-linejoin="miter" stroke-miterlimit="3"/>
<polyline points="1262.2,761.1 1270.1,756.4 1281.2,743.7 1286.0,759.5 1292.3,746.8 1298.7,731.0 1305.0,721.5 1311.3,718.3" fill="none" stroke="#aad454" stroke-opacity="0.5" stroke-width="4" stroke-linejoin="miter" stroke-miterlimit="3"/>
<polyline points="1303.4,712.0 1311.3,721.5 1319.3,743.7 1325.6,731.0" fill="none" stroke="#aad454" stroke-opacity="0.5" stroke-width="4" stroke-linejoin="miter" stroke-miterlimit="3"/>
<polyline points="1287.6,723.1 1295.5,713.5 1303.4,710.4 1311.3,708.8 1319.3,712.0" fill="none" stroke="#aad454" stroke-opacity="0.5" stroke-width="4" stroke-linejoin="miter" stroke-miterlimit="3"/>
<polyline points="200.9,684.6 203.8,660.0 208.5,669.3 213.8,660.0 218.5,657.0 223.2,662.3 226.7,674.0 230.2,684.6 233.7,689.3 239.6,690.5 241.9,695.2 245.5,703.4" fill="none" stroke="#aad454" stroke-opacity="0.5" stroke-width="4" stroke-linejoin="miter" stroke-miterlimit="3"/>
<polyline points="200.9,694.0 206.7,688.1 212.6,686.9 215.0,671.7 217.3,672.9 220.2,677.6 225.5,682.3 230.2,689.3 233.7,703.4 237.3,705.7 241.9,698.7 245.5,690.5 249.0,686.9 251.3,675.2 253.7,663.5 256.0,647.0 260.7,647.0 263.1,640.0" fill="none" stroke="#aad454" stroke-opacity="0.5" stroke-width="4" stroke-linejoin="miter" stroke-miterlimit="3"/>
<polyline points="200.9,669.3 202.0,684.6 205.6,692.8" fill="none" stroke="#aad454" stroke-opacity="0.5" stroke-width="4" stroke-linejoin="miter" stroke-miterlimit="3"/>
<polyline points="200.9,708.1 209.1,712.8 215.0,717.5 220.8,722.2 225.5,726.9 230.2,726.9 236.1,724.5 241.9,722.2 247.8,721.0 253.7,716.3 259.6,710.4 265.4,706.9 271.3,708.1" fill="none" stroke="#aad454" stroke-opacity="0.5" stroke-width="4" stroke-linejoin="miter" stroke-miterlimit="3"/>
<polyline points="200.9,719.8 206.7,724.5 212.6,722.2 218.5,719.8 224.3,716.3 230.2,722.2 236.1,728.0 241.9,730.4 249.0,730.4 256.0,729.2" fill="none" stroke="#aad454" stroke-opacity="0.5" stroke-width="4" stroke-linejoin="miter" stroke-miterlimit="3"/>
<polyline points="200.9,729.2 204.4,732.7 206.7,729.2 212.6,729.2 218.5,731.5 224.3,733.9 230.2,748.0 234.9,743.3 238.4,733.9 244.3,732.7 251.3,732.7 258.4,730.4 264.2,721.0 270.1,715.1 274.8,708.1" fill="none" stroke="#aad454" stroke-opacity="0.5" stroke-width="4" stroke-linejoin="miter" stroke-miterlimit="3"/>
<polyline points="230.2,703.4 236.1,698.7 241.9,696.3 245.5,686.9 250.2,688.1 253.7,684.6 260.7,678.7" fill="none" stroke="#aad454" stroke-opacity="0.5" stroke-width="4" stroke-linejoin="miter" stroke-miterlimit="3"/>
<polyline points="241.9,698.7 247.8,702.2 253.7,701.0 258.4,696.3 264.2,685.8 267.8,670.5 274.8,664.6 279.5,663.5 284.2,661.1" fill="none" stroke="#aad454" stroke-opacity="0.5" stroke-width="4" stroke-linejoin="miter" stroke-miterlimit="3"/>
<polyline points="265.4,640.0 270.1,660.0 274.8,642.3 279.5,642.3 284.2,640.0" fill="none" stroke="#aad454" stroke-opacity="0.5" stroke-width="4" stroke-linejoin="miter" stroke-miterlimit="3"/>
<polyline points="265.4,715.1 274.8,721.0 279.5,724.5 284.2,736.2 288.9,731.5 295.0,724.5" fill="none" stroke="#aad454" stroke-opacity="0.5" stroke-width="4" stroke-linejoin="miter" stroke-miterlimit="3"/>
<polyline points="277.2,705.7 284.2,706.9 288.9,702.2 295.0,696.3" fill="none" stroke="#aad454" stroke-opacity="0.5" stroke-width="4" stroke-linejoin="miter" stroke-miterlimit="3"/>
<polyline points="271.3,640.0 277.2,668.2 281.9,643.5 285.4,640.0" fill="none" stroke="#aad454" stroke-opacity="0.5" stroke-width="4" stroke-linejoin="miter" stroke-miterlimit="3"/>
<polyline points="281.9,675.2 286.5,663.5 291.2,651.7 295.0,644.7" fill="none" stroke="#aad454" stroke-opacity="0.5" stroke-width="4" stroke-linejoin="miter" stroke-miterlimit="3"/>
<polyline points="277.2,684.6 280.7,703.4 284.2,710.4" fill="none" stroke="#aad454" stroke-opacity="0.5" stroke-width="4" stroke-linejoin="miter" stroke-miterlimit="3"/>
<polyline points="291.2,675.2 295.0,692.8" fill="none" stroke="#aad454" stroke-opacity="0.5" stroke-width="4" stroke-linejoin="miter" stroke-miterlimit="3"/>
<polyline points="508.8,551.0 505.7,579.1 504.1,602.6 501.7,620.0" fill="none" stroke="#aad454" stroke-opacity="0.5" stroke-width="4" stroke-linejoin="miter" stroke-miterlimit="3"/>
<polyline points="511.9,540.0 515.0,558.0 517.4,545.5 519.7,545.5 523.7,561.9 526.8,579.1" fill="none" stroke="#aad454" stroke-opacity="0.5" stroke-width="4" stroke-linejoin="miter" stroke-miterlimit="3"/>
<polyline points="513.5,565.0 515.8,565.0 519.0,571.3 522.9,583.1 525.2,587.0 528.4,572.9 533.8,556.4 537.0,540.0" fill="none" stroke="#aad454" stroke-opacity="0.5" stroke-width="4" stroke-linejoin="miter" stroke-miterlimit="3"/>
<polyline points="515.8,576.0 518.2,588.5 521.3,597.9 523.7,587.0" fill="none" stroke="#aad454" stroke-opacity="0.5" stroke-width="4" stroke-linejoin="miter" stroke-miterlimit="3"/>
<polyline points="537.0,540.0 540.1,565.0 543.2,579.1 547.9,550.2 551.8,590.9 553.4,606.5" fill="none" stroke="#aad454" stroke-opacity="0.5" stroke-width="4" stroke-linejoin="miter" stroke-miterlimit="3"/>
<polyline points="538.5,557.2 543.2,571.3 546.4,579.1 552.6,567.4 558.9,570.5 562.0,575.2 565.1,587.0 566.7,590.1 570.0,589.3" fill="none" stroke="#aad454" stroke-opacity="0.5" stroke-width="4" stroke-linejoin="miter" stroke-miterlimit="3"/>
<polyline points="555.8,542.3 558.9,542.3 562.8,541.6 565.1,551.7 567.5,558.8 570.0,557.2" fill="none" stroke="#aad454" stroke-opacity="0.5" stroke-width="4" stroke-linejoin="miter" stroke-miterlimit="3"/>
<polyline points="544.8,587.0 547.1,598.7 552.6,598.7 556.5,594.0 560.5,604.2 564.4,590.9 568.3,593.2 570.0,594.8" fill="none" stroke="#aad454" stroke-opacity="0.5" stroke-width="4" stroke-linejoin="miter" stroke-miterlimit="3"/>
<polyline points="490.0,597.1 493.9,604.2 497.8,608.1 501.7,606.5 505.7,599.5" fill="none" stroke="#aad454" stroke-opacity="0.5" stroke-width="4" stroke-linejoin="miter" stroke-miterlimit="3"/>
<polyline points="538.5,594.8 541.7,579.1 544.8,567.4" fill="none" stroke="#aad454" stroke-opacity="0.5" stroke-width="4" stroke-linejoin="miter" stroke-miterlimit="3"/>
<polyline points="570.0,616.1 573.7,638.3 576.6,660.0" fill="none" stroke="#aad454" stroke-opacity="0.5" stroke-width="4" stroke-linejoin="miter" stroke-miterlimit="3"/>
<polyline points="570.0,589.4 571.7,589.4 574.7,612.8 577.6,584.5 581.5,565.9 586.4,582.5 590.3,588.4 594.2,582.5 599.1,570.8 604.0,560.0" fill="none" stroke="#aad454" stroke-opacity="0.5" stroke-width="4" stroke-linejoin="miter" stroke-miterlimit="3"/>
<polyline points="589.4,567.8 596.2,562.9 601.1,584.5 605.0,577.6 607.0,560.0" fill="none" stroke="#aad454" stroke-opacity="0.5" stroke-width="4" stroke-linejoin="miter" stroke-miterlimit="3"/>
<polyline points="599.1,579.6 604.0,608.9 607.0,638.3 609.9,660.0" fill="none" stroke="#aad454" stroke-opacity="0.5" stroke-width="4" stroke-linejoin="miter" stroke-miterlimit="3"/>
<polyline points="607.0,560.0 610.9,589.4 612.8,615.8 618.7,613.8 623.6,623.6 628.5,602.1 633.4,601.1 637.3,597.2 640.0,606.6" fill="none" stroke="#aad454" stroke-opacity="0.5" stroke-width="4" stroke-linejoin="miter" stroke-miterlimit="3"/>
<polyline points="607.9,560.0 614.8,599.1 618.7,623.6 622.6,648.1" fill="none" stroke="#aad454" stroke-opacity="0.5" stroke-width="4" stroke-linejoin="miter" stroke-miterlimit="3"/>
<polyline points="574.7,636.3 579.6,636.3 584.5,635.3 591.3,635.3 596.2,643.2 601.1,646.1 607.0,640.2 611.9,639.3 614.8,644.1" fill="none" stroke="#aad454" stroke-opacity="0.5" stroke-width="4" stroke-linejoin="miter" stroke-miterlimit="3"/>
<polyline points="597.2,645.1 602.1,624.6 606.0,646.1" fill="none" stroke="#aad454" stroke-opacity="0.5" stroke-width="4" stroke-linejoin="miter" stroke-miterlimit="3"/>
<polyline points="612.8,628.5 616.8,624.6 620.7,636.3 624.6,621.6 628.5,630.5 632.4,647.1 636.3,623.6 640.0,636.8" fill="none" stroke="#aad454" stroke-opacity="0.5" stroke-width="4" stroke-linejoin="miter" stroke-miterlimit="3"/>
<polyline points="616.8,657.8 620.7,648.1 626.5,638.3 633.4,640.2 638.3,641.2 640.0,642.6" fill="none" stroke="#aad454" stroke-opacity="0.5" stroke-width="4" stroke-linejoin="miter" stroke-miterlimit="3"/>
<polyline points="790.0,737.6 790.2,737.4 797.0,739.0 802.1,743.3 807.2,746.7 812.3,745.8 817.4,739.9 822.4,732.3 827.5,728.0" fill="none" stroke="#aad454" stroke-opacity="0.5" stroke-width="4" stroke-linejoin="miter" stroke-miterlimit="3"/>
<polyline points="790.0,732.8 791.0,732.3 797.0,729.7 803.8,728.0 809.7,727.2 815.7,729.7 820.7,735.7 825.8,744.1 830.9,747.5 836.0,755.2 841.1,750.9 846.2,749.2 851.3,755.2 854.7,745.8 859.8,752.6 864.9,759.4 870.0,758.6 877.6,757.7 886.1,757.7 890.4,750.9 900.0,755.2" fill="none" stroke="#aad454" stroke-opacity="0.5" stroke-width="4" stroke-linejoin="miter" stroke-miterlimit="3"/>
<polyline points="790.0,735.3 792.7,736.5 798.7,732.3 805.5,734.0 812.3,730.6 817.4,732.3 822.4,739.0 827.5,745.8 832.6,750.9 837.7,752.6 844.5,747.5 849.6,745.8 854.7,750.9" fill="none" stroke="#aad454" stroke-opacity="0.5" stroke-width="4" stroke-linejoin="miter" stroke-miterlimit="3"/>
<polyline points="816.5,725.5 819.9,736.5 824.1,742.4 829.2,735.7 834.3,742.4 839.4,747.5 844.5,745.8 847.9,742.4 852.2,740.7 858.1,744.1 863.2,747.5 868.3,741.6 873.4,742.4 880.2,744.1 886.1,749.2 890.4,747.5 895.4,746.7 900.0,747.5" fill="none" stroke="#aad454" stroke-opacity="0.5" stroke-width="4" stroke-linejoin="miter" stroke-miterlimit="3"/>
<polyline points="827.5,732.3 832.6,736.5 837.7,739.9 843.7,739.9 849.6,737.4 854.7,735.7 859.8,739.0 864.9,744.1 870.0,745.0 877.6,744.1 883.6,743.3 888.7,742.4" fill="none" stroke="#aad454" stroke-opacity="0.5" stroke-width="4" stroke-linejoin="miter" stroke-miterlimit="3"/>
<polyline points="853.9,732.3 858.1,740.7 863.2,754.3 864.9,759.4" fill="none" stroke="#aad454" stroke-opacity="0.5" stroke-width="4" stroke-linejoin="miter" stroke-miterlimit="3"/>
<polyline points="881.9,740.7 887.0,732.3 890.4,719.5 895.4,715.3 900.0,712.8" fill="none" stroke="#aad454" stroke-opacity="0.5" stroke-width="4" stroke-linejoin="miter" stroke-miterlimit="3"/>
<polyline points="900.0,747.5 905.1,750.1 910.2,750.9 917.0,749.2 922.1,750.9 927.2,754.3 932.3,755.2 937.4,751.8 942.4,747.5 947.5,744.1 952.6,745.8 957.7,747.5 962.8,747.5 967.9,745.8 973.0,748.4 978.1,752.6 983.2,756.0 988.3,757.7 993.4,759.4 998.5,761.1 1003.6,759.4 1010.4,757.7 1020.0,754.3" fill="none" stroke="#aad454" stroke-opacity="0.5" stroke-width="4" stroke-linejoin="miter" stroke-miterlimit="3"/>
<polyline points="900.0,757.7 904.2,754.3 910.2,755.2 917.0,752.6 920.4,762.8 925.5,759.4 928.9,764.5 932.3,758.6 936.5,752.6 940.7,747.5" fill="none" stroke="#aad454" stroke-opacity="0.5" stroke-width="4" stroke-linejoin="miter" stroke-miterlimit="3"/>
<polyline points="900.0,750.9 906.8,752.6 913.6,757.7 918.7,747.5 925.5,748.4 930.6,754.3" fill="none" stroke="#aad454" stroke-opacity="0.5" stroke-width="4" stroke-linejoin="miter" stroke-miterlimit="3"/>
<polyline points="905.1,732.3 908.5,735.7 913.6,744.1 918.7,749.2 923.8,752.6 928.9,756.0" fill="none" stroke="#aad454" stroke-opacity="0.5" stroke-width="4" stroke-linejoin="miter" stroke-miterlimit="3"/>
<polyline points="942.4,742.4 947.5,750.9 950.9,757.7 957.7,766.2 964.5,765.4 971.3,764.5 978.1,761.1 983.2,759.4 988.3,759.4" fill="none" stroke="#aad454" stroke-opacity="0.5" stroke-width="4" stroke-linejoin="miter" stroke-miterlimit="3"/>
<polyline points="944.1,746.7 950.9,750.9 957.7,756.0 964.5,759.4 971.3,761.1 976.4,762.0 981.5,762.8 986.6,767.9 991.7,772.2 998.5,774.7 1005.3,771.3 1010.4,765.4 1015.4,759.4 1020.0,755.2" fill="none" stroke="#aad454" stroke-opacity="0.5" stroke-width="4" stroke-linejoin="miter" stroke-miterlimit="3"/>
<polyline points="952.6,747.5 956.0,755.2 961.1,761.1 967.9,757.7 974.7,755.2 979.8,754.3 984.9,756.0 991.7,759.4 998.5,761.1 1005.3,762.8 1010.4,764.5 1020.0,764.5" fill="none" stroke="#aad454" stroke-opacity="0.5" stroke-width="4" stroke-linejoin="miter" stroke-miterlimit="3"/>
<polyline points="961.1,750.9 967.9,747.5 974.7,750.9 978.1,759.4 983.2,764.5 990.0,769.6" fill="none" stroke="#aad454" stroke-opacity="0.5" stroke-width="4" stroke-linejoin="miter" stroke-miterlimit="3"/>
<polyline points="1020.0,755.2 1025.1,752.6 1030.2,754.3 1037.0,755.2 1042.1,757.7 1047.2,755.2 1052.3,757.7 1057.4,756.0 1062.4,754.3 1067.1,752.0" fill="none" stroke="#aad454" stroke-opacity="0.5" stroke-width="4" stroke-linejoin="miter" stroke-miterlimit="3"/>
<polyline points="1077.5,752.0 1079.4,752.6 1083.2,752.0" fill="none" stroke="#aad454" stroke-opacity="0.5" stroke-width="4" stroke-linejoin="miter" stroke-miterlimit="3"/>
<polyline points="1085.8,752.0 1089.6,752.6 1094.7,754.3 1098.2,752.0" fill="none" stroke="#aad454" stroke-opacity="0.5" stroke-width="4" stroke-linejoin="miter" stroke-miterlimit="3"/>
<polyline points="1103.0,752.0 1104.9,752.6 1110.0,756.0 1115.1,754.3 1121.9,753.5 1124.8,752.0" fill="none" stroke="#aad454" stroke-opacity="0.5" stroke-width="4" stroke-linejoin="miter" stroke-miterlimit="3"/>
<polyline points="1020.0,761.1 1025.1,759.4 1030.2,756.0 1037.0,763.7 1042.1,759.4 1047.2,757.7 1052.3,761.1 1057.4,762.8 1062.4,761.1 1067.5,760.3 1072.6,759.4 1077.7,756.0 1082.8,757.7 1086.2,764.5 1089.6,757.7 1094.7,758.6 1099.8,762.8 1104.9,761.1 1110.0,756.0 1115.1,752.6 1120.2,757.7 1125.3,759.4 1130.4,758.6 1135.4,759.4 1140.0,757.7" fill="none" stroke="#aad454" stroke-opacity="0.5" stroke-width="4" stroke-linejoin="miter" stroke-miterlimit="3"/>
<polyline points="1020.0,764.5 1026.8,762.8 1033.6,764.5 1040.4,764.5 1047.2,765.4 1054.0,764.5 1060.7,762.8 1067.5,764.5 1074.3,767.9 1079.4,767.9 1084.5,768.8 1089.6,769.6 1096.4,767.9 1101.5,767.1 1108.3,767.9 1115.1,768.8 1120.2,767.9 1127.0,766.2 1133.8,767.1 1140.0,767.1" fill="none" stroke="#aad454" stroke-opacity="0.5" stroke-width="4" stroke-linejoin="miter" stroke-miterlimit="3"/>
<polyline points="1067.5,762.8 1072.6,761.1 1079.4,758.6 1084.5,759.4 1089.6,764.5 1094.7,759.4 1099.8,761.1 1104.9,764.5 1110.0,766.2 1116.8,767.9 1121.9,762.8 1125.3,756.0 1130.4,754.3 1135.4,756.0 1140.0,752.7" fill="none" stroke="#aad454" stroke-opacity="0.5" stroke-width="4" stroke-linejoin="miter" stroke-miterlimit="3"/>
<polyline points="1140.0,751.6 1145.3,749.9 1150.6,753.4 1157.6,758.7 1164.6,753.4 1169.9,742.8 1171.2,742.0" fill="none" stroke="#aad454" stroke-opacity="0.5" stroke-width="4" stroke-linejoin="miter" stroke-miterlimit="3"/>
<polyline points="1182.5,742.0 1185.8,746.3 1189.3,744.6 1194.6,751.6 1199.9,751.6 1205.1,750.7 1210.4,751.6 1215.7,753.4 1221.0,754.3 1226.3,749.9 1231.5,746.3 1236.8,748.1 1242.1,746.3 1247.4,742.8 1248.6,742.0" fill="none" stroke="#aad454" stroke-opacity="0.5" stroke-width="4" stroke-linejoin="miter" stroke-miterlimit="3"/>
<polyline points="1140.0,767.5 1145.3,764.8 1150.6,760.4 1157.6,756.9 1162.9,755.1 1168.2,754.3 1173.5,756.9 1178.7,756.9 1184.0,757.8 1189.3,760.4 1194.6,763.1 1199.9,764.8 1205.1,761.3 1210.4,758.7 1215.7,760.4 1221.0,763.1 1226.3,756.9 1231.5,751.6 1236.8,753.4 1242.1,756.9 1247.4,756.9 1252.7,753.4 1260.0,749.9" fill="none" stroke="#aad454" stroke-opacity="0.5" stroke-width="4" stroke-linejoin="miter" stroke-miterlimit="3"/>
<polyline points="1140.0,756.9 1147.0,756.9 1154.1,758.7 1161.1,760.4 1166.4,758.7 1171.7,763.9 1177.0,767.5 1182.3,765.7 1187.5,760.4 1192.8,758.7 1198.1,761.3 1203.4,764.8 1208.7,767.5 1213.9,767.5 1219.2,765.7 1224.5,762.2 1229.8,758.7 1235.1,755.1 1240.4,756.9 1243.9,762.2 1249.2,767.5 1254.4,762.2 1260.0,755.1" fill="none" stroke="#aad454" stroke-opacity="0.5" stroke-width="4" stroke-linejoin="miter" stroke-miterlimit="3"/>
<polyline points="1183.2,742.0 1185.8,744.6 1191.1,751.6 1196.3,763.9 1199.9,744.6 1203.4,742.8 1206.9,753.4 1212.2,742.8 1215.7,751.6 1221.0,756.9 1226.3,763.9 1231.5,758.7 1236.8,755.1 1242.1,751.6" fill="none" stroke="#aad454" stroke-opacity="0.5" stroke-width="4" stroke-linejoin="miter" stroke-miterlimit="3"/>
<polyline points="1338.7,634.7 1344.6,634.7 1348.5,659.1 1352.4,639.6 1356.3,639.6 1360.2,659.1 1364.1,641.5 1366.1,641.5 1364.1,664.0" fill="none" stroke="#aad454" stroke-opacity="0.5" stroke-width="4" stroke-linejoin="miter" stroke-miterlimit="3"/>
<polyline points="1328.9,688.5 1329.9,662.1 1334.8,653.3 1338.7,652.3 1342.6,673.8 1346.5,676.8 1350.5,674.8 1354.4,678.7 1358.3,670.9 1361.2,659.1 1365.1,667.9 1366.1,667.9" fill="none" stroke="#aad454" stroke-opacity="0.5" stroke-width="4" stroke-linejoin="miter" stroke-miterlimit="3"/>
<polyline points="1330.9,708.1 1334.8,668.9 1338.7,659.1 1340.7,649.4 1344.6,642.5 1348.5,643.5 1352.4,657.2 1356.3,668.9 1360.2,674.8 1364.1,678.7" fill="none" stroke="#aad454" stroke-opacity="0.5" stroke-width="4" stroke-linejoin="miter" stroke-miterlimit="3"/>
<polyline points="1324.0,720.0 1327.0,684.6 1330.9,682.6" fill="none" stroke="#aad454" stroke-opacity="0.5" stroke-width="4" stroke-linejoin="miter" stroke-miterlimit="3"/>
<polyline points="1309.4,670.9 1313.3,670.9 1319.1,678.7 1323.1,686.5 1328.9,687.5 1334.8,684.6 1340.7,679.7" fill="none" stroke="#aad454" stroke-opacity="0.5" stroke-width="4" stroke-linejoin="miter" stroke-miterlimit="3"/>
<polyline points="1307.4,691.4 1313.3,693.4 1315.2,708.1 1319.1,720.0" fill="none" stroke="#aad454" stroke-opacity="0.5" stroke-width="4" stroke-linejoin="miter" stroke-miterlimit="3"/>
<polyline points="1294.7,720.0 1299.6,706.1 1304.5,704.1 1309.4,708.1" fill="none" stroke="#aad454" stroke-opacity="0.5" stroke-width="4" stroke-linejoin="miter" stroke-miterlimit="3"/>
<polyline points="578.5,665.2 581.4,671.1 585.5,675.8 587.9,682.8 589.1,688.7" fill="none" stroke="#aad454" stroke-opacity="0.5" stroke-width="4" stroke-linejoin="miter" stroke-miterlimit="3"/>
<polyline points="584.4,688.7 586.7,677.0 590.2,671.1 593.2,665.2 596.1,659.4 599.6,658.2 603.2,660.5 606.7,665.2 609.0,668.2" fill="none" stroke="#aad454" stroke-opacity="0.5" stroke-width="4" stroke-linejoin="miter" stroke-miterlimit="3"/>
<polyline points="589.1,677.0 592.6,680.5 596.1,682.8 599.6,684.0 602.0,677.0 604.3,671.1 605.5,665.2" fill="none" stroke="#aad454" stroke-opacity="0.5" stroke-width="4" stroke-linejoin="miter" stroke-miterlimit="3"/>
<polyline points="591.4,688.7 593.8,671.1 596.1,666.4 598.5,671.1" fill="none" stroke="#aad454" stroke-opacity="0.5" stroke-width="4" stroke-linejoin="miter" stroke-miterlimit="3"/>
<polyline points="555.0,659.4 558.5,658.2 564.4,660.5 569.1,665.2 573.8,671.1 577.3,677.0 580.2,674.6" fill="none" stroke="#aad454" stroke-opacity="0.5" stroke-width="4" stroke-linejoin="miter" stroke-miterlimit="3"/>
<polyline points="395.0,561.1 395.8,560.0" fill="none" stroke="#aad454" stroke-opacity="0.5" stroke-width="4" stroke-linejoin="miter" stroke-miterlimit="3"/>
<polyline points="403.9,560.0 405.6,569.4 407.9,563.5 410.3,575.2 415.0,577.6 418.5,575.2 423.2,572.9 430.2,570.5 436.1,572.9 442.0,575.2 449.0,572.9 453.7,565.8 458.4,564.7 463.1,571.7" fill="none" stroke="#aad454" stroke-opacity="0.5" stroke-width="4" stroke-linejoin="miter" stroke-miterlimit="3"/>
<polyline points="395.0,592.9 397.3,618.7 399.7,605.8 402.0,596.4 404.4,598.7 406.7,608.1 410.3,608.1 412.6,622.2 415.0,643.4" fill="none" stroke="#aad454" stroke-opacity="0.5" stroke-width="4" stroke-linejoin="miter" stroke-miterlimit="3"/>
<polyline points="403.3,560.0 403.8,610.5" fill="none" stroke="#aad454" stroke-opacity="0.5" stroke-width="4" stroke-linejoin="miter" stroke-miterlimit="3"/>
<polyline points="407.9,563.5 410.3,572.9 413.8,563.5 417.3,567.0 419.7,575.2 422.0,567.0 425.5,572.9 429.1,569.4 432.6,608.1 436.1,577.6 439.6,578.8 444.3,591.7 446.7,575.2" fill="none" stroke="#aad454" stroke-opacity="0.5" stroke-width="4" stroke-linejoin="miter" stroke-miterlimit="3"/>
<polyline points="418.5,578.8 416.1,610.5 413.8,634.0 412.6,660.0" fill="none" stroke="#aad454" stroke-opacity="0.5" stroke-width="4" stroke-linejoin="miter" stroke-miterlimit="3"/>
<polyline points="395.0,601.1 399.7,587.0 404.4,584.6" fill="none" stroke="#aad454" stroke-opacity="0.5" stroke-width="4" stroke-linejoin="miter" stroke-miterlimit="3"/>
<polyline points="458.4,564.7 465.5,587.0 470.2,601.1 475.0,610.5" fill="none" stroke="#aad454" stroke-opacity="0.5" stroke-width="4" stroke-linejoin="miter" stroke-miterlimit="3"/>
<polyline points="280.0,575.2 283.5,584.6 287.0,561.1 290.6,575.2 292.5,560.0" fill="none" stroke="#aad454" stroke-opacity="0.5" stroke-width="4" stroke-linejoin="miter" stroke-miterlimit="3"/>
<polyline points="304.0,560.0 305.8,572.9 308.2,567.0 311.7,582.3 315.2,589.3 319.9,578.7 323.4,578.7 325.8,589.3 326.9,584.6 329.3,605.7 331.6,610.4 335.2,601.0 338.7,596.3 344.6,596.3 346.9,615.1 350.4,626.9 355.1,619.8 364.5,621.0 371.5,621.0 380.0,619.8" fill="none" stroke="#aad454" stroke-opacity="0.5" stroke-width="4" stroke-linejoin="miter" stroke-miterlimit="3"/>
<polyline points="318.1,560.0 317.6,575.2 315.2,610.4 312.9,660.0" fill="none" stroke="#aad454" stroke-opacity="0.5" stroke-width="4" stroke-linejoin="miter" stroke-miterlimit="3"/>
<polyline points="319.7,560.0 318.7,598.7 315.2,645.6" fill="none" stroke="#aad454" stroke-opacity="0.5" stroke-width="4" stroke-linejoin="miter" stroke-miterlimit="3"/>
<polyline points="337.5,575.2 339.5,560.0" fill="none" stroke="#aad454" stroke-opacity="0.5" stroke-width="4" stroke-linejoin="miter" stroke-miterlimit="3"/>
<polyline points="340.2,560.0 342.2,572.9 343.6,560.0" fill="none" stroke="#aad454" stroke-opacity="0.5" stroke-width="4" stroke-linejoin="miter" stroke-miterlimit="3"/>
<polyline points="329.3,605.7 336.3,633.9 341.0,645.6" fill="none" stroke="#aad454" stroke-opacity="0.5" stroke-width="4" stroke-linejoin="miter" stroke-miterlimit="3"/>
<polyline points="280.0,645.6 285.9,625.7 290.6,624.5 295.3,631.5 297.6,617.5 301.1,618.6 303.5,622.2 308.2,617.5 311.7,601.0 315.2,595.2 319.9,610.4 322.3,619.8 326.9,622.2 331.6,615.1 336.3,605.7" fill="none" stroke="#aad454" stroke-opacity="0.5" stroke-width="4" stroke-linejoin="miter" stroke-miterlimit="3"/>
<polyline points="280.0,657.4 285.9,645.6 291.7,643.3 298.8,642.1 303.5,646.8 310.5,655.0 314.0,660.0" fill="none" stroke="#aad454" stroke-opacity="0.5" stroke-width="4" stroke-linejoin="miter" stroke-miterlimit="3"/>
<polyline points="287.0,660.0 289.4,633.9 292.9,622.2 296.4,633.9 300.0,660.0" fill="none" stroke="#aad454" stroke-opacity="0.5" stroke-width="4" stroke-linejoin="miter" stroke-miterlimit="3"/>
<polyline points="361.0,560.0 361.0,622.2 362.2,660.0" fill="none" stroke="#aad454" stroke-opacity="0.5" stroke-width="4" stroke-linejoin="miter" stroke-miterlimit="3"/>
<polyline points="345.7,629.2 350.4,645.6 356.3,655.0 362.2,648.0 371.5,650.3 380.0,643.3" fill="none" stroke="#aad454" stroke-opacity="0.5" stroke-width="4" stroke-linejoin="miter" stroke-miterlimit="3"/>
<polyline points="1286.3,760.3 1293.4,738.9 1300.6,724.7 1305.9,714.0 1311.3,714.0 1316.6,724.7 1321.9,737.2 1327.3,728.3 1332.6,731.8 1338.0,738.9 1343.3,706.9" fill="none" stroke="#aad454" stroke-opacity="0.5" stroke-width="4" stroke-linejoin="miter" stroke-miterlimit="3"/>
<polyline points="1293.4,710.4 1300.6,703.3 1307.7,699.8 1314.8,706.9 1321.9,717.6 1329.1,721.1 1336.2,724.7 1343.3,731.8 1350.4,735.4 1357.6,730.0 1364.7,721.1" fill="none" stroke="#aad454" stroke-opacity="0.5" stroke-width="4" stroke-linejoin="miter" stroke-miterlimit="3"/>
<polyline points="1298.8,699.8 1302.3,674.8 1309.5,671.3 1314.8,674.8 1321.9,685.5 1329.1,687.3 1336.2,685.5 1341.5,680.2 1346.9,676.6 1354.0,678.4 1361.1,671.3" fill="none" stroke="#aad454" stroke-opacity="0.5" stroke-width="4" stroke-linejoin="miter" stroke-miterlimit="3"/>
<polyline points="1307.7,728.3 1314.8,724.7 1323.7,728.3 1332.6,715.8" fill="none" stroke="#aad454" stroke-opacity="0.5" stroke-width="4" stroke-linejoin="miter" stroke-miterlimit="3"/>
<polyline points="1336.2,710.4 1339.8,724.7 1346.9,735.4 1354.0,724.7 1357.6,738.9 1364.7,721.1" fill="none" stroke="#aad454" stroke-opacity="0.5" stroke-width="4" stroke-linejoin="miter" stroke-miterlimit="3"/>
<polyline points="580.0,540.0 579.3,559.2 579.2,560.0" fill="none" stroke="#aad454" stroke-opacity="0.5" stroke-width="4" stroke-linejoin="miter" stroke-miterlimit="3"/>
<polyline points="599.2,540.0 599.6,551.3 600.2,560.0" fill="none" stroke="#aad454" stroke-opacity="0.5" stroke-width="4" stroke-linejoin="miter" stroke-miterlimit="3"/>
<polyline points="571.9,540.0 573.8,559.2 573.9,560.0" fill="none" stroke="#aad454" stroke-opacity="0.5" stroke-width="4" stroke-linejoin="miter" stroke-miterlimit="3"/>
<polyline points="570.0,556.4 570.7,556.0 571.3,560.0" fill="none" stroke="#aad454" stroke-opacity="0.5" stroke-width="4" stroke-linejoin="miter" stroke-miterlimit="3"/>
<polyline points="579.9,560.0 580.1,559.2 581.6,555.2 584.8,555.2 585.3,560.0" fill="none" stroke="#aad454" stroke-opacity="0.5" stroke-width="4" stroke-linejoin="miter" stroke-miterlimit="3"/>
<polyline points="603.9,560.0 605.1,556.8 608.2,554.5 610.6,554.5 611.1,560.0" fill="none" stroke="#aad454" stroke-opacity="0.5" stroke-width="4" stroke-linejoin="miter" stroke-miterlimit="3"/>
<polyline points="584.8,554.5 586.8,560.0" fill="none" stroke="#aad454" stroke-opacity="0.5" stroke-width="4" stroke-linejoin="miter" stroke-miterlimit="3"/>
<polyline points="586.6,720.0 589.7,707.3 599.1,705.0 602.2,699.5 611.6,696.4 620.2,694.8 624.1,690.1 628.8,683.8 635.1,680.7" fill="none" stroke="#aad454" stroke-opacity="0.5" stroke-width="4" stroke-linejoin="miter" stroke-miterlimit="3"/>
<polyline points="585.0,687.0 588.1,683.8 589.7,673.7 592.8,677.6 596.0,680.7 599.1,682.3 602.2,671.3 604.6,661.9 606.9,668.2 609.9,660.0" fill="none" stroke="#aad454" stroke-opacity="0.5" stroke-width="4" stroke-linejoin="miter" stroke-miterlimit="3"/>
<polyline points="585.0,675.2 588.1,676.0 592.8,679.1 596.7,682.3 599.9,672.9" fill="none" stroke="#aad454" stroke-opacity="0.5" stroke-width="4" stroke-linejoin="miter" stroke-miterlimit="3"/>
<polyline points="617.9,669.7 620.2,675.2 622.6,687.0 624.1,708.9 627.3,708.9 628.8,688.5 632.0,710.5 633.5,712.0 638.2,702.6 640.0,696.0" fill="none" stroke="#aad454" stroke-opacity="0.5" stroke-width="4" stroke-linejoin="miter" stroke-miterlimit="3"/>
<polyline points="622.6,694.8 625.7,687.0 630.4,682.3 635.1,682.3 639.8,683.8 640.0,684.0" fill="none" stroke="#aad454" stroke-opacity="0.5" stroke-width="4" stroke-linejoin="miter" stroke-miterlimit="3"/>
<polyline points="627.3,672.9 632.0,680.7 636.7,687.0 640.0,689.2" fill="none" stroke="#aad454" stroke-opacity="0.5" stroke-width="4" stroke-linejoin="miter" stroke-miterlimit="3"/>
<polyline points="640.0,683.0 646.8,680.7 652.4,683.0 657.0,696.6 662.6,698.8 667.2,694.3 672.8,703.4 677.3,700.0 681.9,694.3 687.5,698.8 692.1,703.4 696.6,705.6 702.2,707.9 707.9,712.4 713.6,716.9 719.2,721.5 724.9,719.2 730.5,721.5 737.3,726.0 744.1,726.0 750.9,719.2 757.7,721.5 764.5,723.7" fill="none" stroke="#aad454" stroke-opacity="0.5" stroke-width="4" stroke-linejoin="miter" stroke-miterlimit="3"/>
<polyline points="640.0,689.8 645.7,687.5 651.3,683.0 657.0,685.3 664.9,687.5 669.4,694.3 673.9,692.1 680.7,687.5 687.5,696.6 692.1,707.9 698.8,714.7 703.4,712.4 707.9,719.2 712.4,728.3 717.6,730.0" fill="none" stroke="#aad454" stroke-opacity="0.5" stroke-width="4" stroke-linejoin="miter" stroke-miterlimit="3"/>
<polyline points="654.1,672.0 660.4,676.2 667.2,680.7 672.8,685.3 677.3,687.5 683.0,690.9 688.7,694.3 694.3,692.1 701.1,688.7 707.9,690.9 714.7,696.6 719.2,703.4 723.7,710.2 728.3,714.7 732.8,719.2 737.3,721.5" fill="none" stroke="#aad454" stroke-opacity="0.5" stroke-width="4" stroke-linejoin="miter" stroke-miterlimit="3"/>
<polyline points="685.3,703.4 689.8,710.2 694.3,703.4 698.8,716.9 703.4,707.9 710.2,714.7 716.9,714.7 723.7,721.5 730.5,726.0" fill="none" stroke="#aad454" stroke-opacity="0.5" stroke-width="4" stroke-linejoin="miter" stroke-miterlimit="3"/>
<polyline points="728.3,696.6 732.8,689.8 737.3,698.8 741.8,687.5 746.4,698.8 750.9,707.9 755.4,714.7 759.9,719.2 766.7,716.9 773.5,713.6 780.3,716.9 787.1,714.7 790.0,714.2" fill="none" stroke="#aad454" stroke-opacity="0.5" stroke-width="4" stroke-linejoin="miter" stroke-miterlimit="3"/>
<polyline points="732.8,710.2 737.3,719.2 741.8,726.0 747.8,730.0" fill="none" stroke="#aad454" stroke-opacity="0.5" stroke-width="4" stroke-linejoin="miter" stroke-miterlimit="3"/>
<polyline points="750.2,730.0 755.4,728.3 760.6,730.0" fill="none" stroke="#aad454" stroke-opacity="0.5" stroke-width="4" stroke-linejoin="miter" stroke-miterlimit="3"/>
<polyline points="200.0,703.9 208.3,702.2 212.5,706.4 215.8,704.4 224.1,709.4 226.6,709.4 233.2,717.2 243.2,709.4 249.9,707.2 254.9,704.4 260.7,702.2 266.5,696.4 271.5,700.1 279.8,687.3 288.1,670.6 294.8,669.5 300.6,674.8 305.6,671.5 314.7,648.2 318.9,645.7 326.4,636.5 329.7,649.0 339.7,621.6 342.9,626.2 346.6,612.3 351.7,609.3 356.1,605.7 367.2,588.8 370.8,598.3 378.2,567.5 384.0,556.5 389.9,529.4 392.1,528.6 398.7,535.2 405.3,554.3 409.0,543.3 415.6,551.4 422.2,538.9 433.2,563.8 436.9,547.7 439.8,565.3 446.4,542.6 453.0,536.0 457.4,538.2 469.2,583.7 474.3,595.4 477.2,589.5 480.9,593.2 485.0,599.6 489.4,611.4 498.9,620.2 502.6,618.7 508.5,601.8 512.2,609.9 515.8,604.0 520.2,607.0 526.8,621.6 529.8,604.0 533.4,598.9 537.1,597.4 540.0,609.9 543.7,610.6 548.1,618.7 551.0,618.0 554.7,615.8 558.4,616.5 564.3,623.1 570.1,634.9 574.0,659.5 577.0,660.0 585.5,667.5 592.1,652.0 595.5,657.0 601.8,650.5 608.5,658.0 619.4,665.8 626.5,662.7 629.0,655.7 635.1,671.0 643.0,659.2 646.9,665.8 650.0,660.8 654.2,661.9 659.4,670.6 665.2,676.5 668.9,678.0 671.1,683.1 675.5,678.7 682.8,681.6 687.2,685.3 693.1,686.0 699.7,679.4 709.3,683.1 715.1,690.5 723.9,702.2 727.6,710.3 732.7,709.5 740.8,713.2 744.5,706.6 750.4,710.3 754.8,714.7 759.2,716.9 762.8,722.7 769.4,724.9 775.0,726.6 782.3,729.5 788.2,725.1 797.0,723.4 804.4,722.9 811.7,721.5 816.8,719.3 822.0,724.4 830.8,726.6 839.6,725.9 845.5,728.8 852.8,728.8 861.6,732.5 867.5,731.0 877.7,734.7 884.3,738.3 893.9,727.3 902.7,725.1 910.0,728.1 915.9,731.7 920.0,736.6 925.9,739.8 934.7,739.8 942.0,735.9 947.2,738.8 953.8,736.6 964.0,739.5 972.8,742.5 981.6,745.4 993.4,751.3 1005.9,754.5 1013.9,751.3 1023.5,746.9 1031.6,749.1 1040.4,749.1 1050.6,752.0 1060.9,748.3 1065.0,748.6 1075.3,745.7 1084.1,746.4 1094.4,746.4 1103.2,745.7 1110.5,748.6 1119.3,749.3 1126.6,745.7 1135.5,744.9 1141.3,744.2 1150.1,744.9 1160.4,740.5 1169.2,736.1 1176.6,737.6 1182.4,734.7 1191.2,735.4 1197.1,738.3 1205.9,736.1 1210.0,737.3 1218.3,739.0 1227.5,733.4 1235.0,734.8 1244.1,737.3 1254.9,729.0 1264.9,731.8 1272.4,729.0 1281.5,718.1 1290.7,708.2 1299.8,689.9 1303.1,689.9 1309.8,702.3 1316.5,709.0 1323.1,712.3 1332.3,706.5 1339.7,682.4 1347.2,689.9 1351.4,686.5 1356.4,689.0 1363.0,682.4 1366.4,690.7" fill="none" stroke="#333" stroke-width="5.8" stroke-linejoin="miter" stroke-miterlimit="3"/>
</svg>
<div style="position:absolute;left:13px;top:928px;width:10px;height:10px;border-radius:50%;background:#9fa3b0"></div>
<div class="t" style="left:40px;top:922px;font-size:23px;letter-spacing:0.45px;color:#0c0b2b;line-height:28px">Sample collected</div>
<div style="position:absolute;left:0;top:961.5px;width:19.2px;height:19.2px;border-radius:50%;background:#333"></div>
<div style="position:absolute;left:0;top:983.6px;width:19.2px;height:19.2px;border-radius:50%;background:#b1d84a"></div>
<div style="position:absolute;left:32px;top:957.5px;height:25px;overflow:hidden;white-space:nowrap;color:#555;font-size:22px;letter-spacing:0.6px;line-height:34px"><b>All Selected Locations</b> (Average)</div>
<div style="position:absolute;left:32px;top:980px;height:24.5px;overflow:hidden;white-space:nowrap;color:#555;font-size:22px;letter-spacing:1px;line-height:34px">Multiple locations</div>
</body></html>
